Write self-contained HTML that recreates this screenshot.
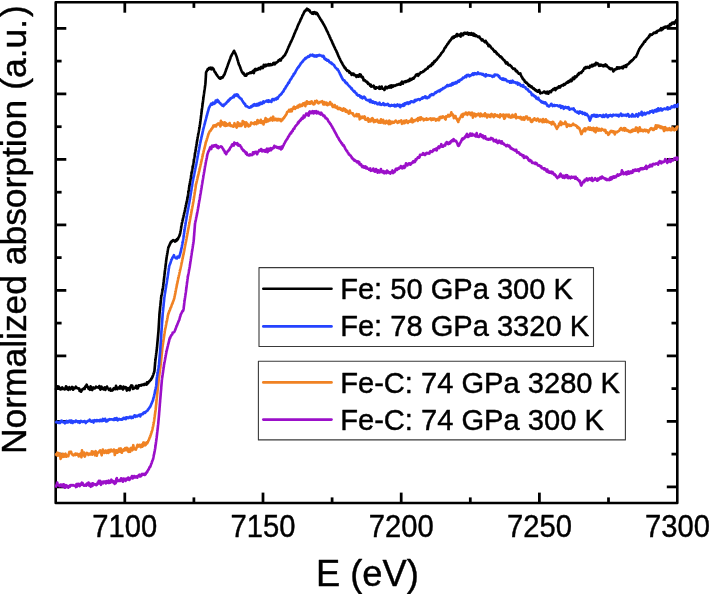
<!DOCTYPE html>
<html><head><meta charset="utf-8"><title>XANES</title>
<style>html,body{margin:0;padding:0;background:#fff;overflow:hidden}body{width:710px;height:594px}svg{will-change:transform}</style></head>
<body>
<svg width="710" height="594" viewBox="0 0 710 594" style="display:block">
<rect x="0" y="0" width="710" height="594" fill="#fff"/>
<defs><clipPath id="plotclip"><rect x="54.40" y="1.00" width="624.25" height="503.30"/></clipPath></defs>
<g stroke="#000" stroke-width="2.75" stroke-linecap="butt">
<line x1="124.8" y1="503.0" x2="124.8" y2="492.6"/>
<line x1="124.8" y1="2.3" x2="124.8" y2="12.7"/>
<line x1="193.9" y1="503.0" x2="193.9" y2="497.4"/>
<line x1="193.9" y1="2.3" x2="193.9" y2="7.9"/>
<line x1="263.0" y1="503.0" x2="263.0" y2="492.6"/>
<line x1="263.0" y1="2.3" x2="263.0" y2="12.7"/>
<line x1="332.1" y1="503.0" x2="332.1" y2="497.4"/>
<line x1="332.1" y1="2.3" x2="332.1" y2="7.9"/>
<line x1="401.2" y1="503.0" x2="401.2" y2="492.6"/>
<line x1="401.2" y1="2.3" x2="401.2" y2="12.7"/>
<line x1="470.3" y1="503.0" x2="470.3" y2="497.4"/>
<line x1="470.3" y1="2.3" x2="470.3" y2="7.9"/>
<line x1="539.4" y1="503.0" x2="539.4" y2="492.6"/>
<line x1="539.4" y1="2.3" x2="539.4" y2="12.7"/>
<line x1="608.5" y1="503.0" x2="608.5" y2="497.4"/>
<line x1="608.5" y1="2.3" x2="608.5" y2="7.9"/>
<line x1="55.7" y1="28.4" x2="66.3" y2="28.4"/>
<line x1="677.35" y1="28.4" x2="666.8" y2="28.4"/>
<line x1="55.7" y1="61.1" x2="61.6" y2="61.1"/>
<line x1="677.35" y1="61.1" x2="671.5" y2="61.1"/>
<line x1="55.7" y1="93.9" x2="66.3" y2="93.9"/>
<line x1="677.35" y1="93.9" x2="666.8" y2="93.9"/>
<line x1="55.7" y1="126.7" x2="61.6" y2="126.7"/>
<line x1="677.35" y1="126.7" x2="671.5" y2="126.7"/>
<line x1="55.7" y1="159.4" x2="66.3" y2="159.4"/>
<line x1="677.35" y1="159.4" x2="666.8" y2="159.4"/>
<line x1="55.7" y1="192.2" x2="61.6" y2="192.2"/>
<line x1="677.35" y1="192.2" x2="671.5" y2="192.2"/>
<line x1="55.7" y1="224.9" x2="66.3" y2="224.9"/>
<line x1="677.35" y1="224.9" x2="666.8" y2="224.9"/>
<line x1="55.7" y1="257.6" x2="61.6" y2="257.6"/>
<line x1="677.35" y1="257.6" x2="671.5" y2="257.6"/>
<line x1="55.7" y1="290.4" x2="66.3" y2="290.4"/>
<line x1="677.35" y1="290.4" x2="666.8" y2="290.4"/>
<line x1="55.7" y1="323.1" x2="61.6" y2="323.1"/>
<line x1="677.35" y1="323.1" x2="671.5" y2="323.1"/>
<line x1="55.7" y1="355.9" x2="66.3" y2="355.9"/>
<line x1="677.35" y1="355.9" x2="666.8" y2="355.9"/>
<line x1="55.7" y1="388.6" x2="61.6" y2="388.6"/>
<line x1="677.35" y1="388.6" x2="671.5" y2="388.6"/>
<line x1="55.7" y1="421.4" x2="66.3" y2="421.4"/>
<line x1="677.35" y1="421.4" x2="666.8" y2="421.4"/>
<line x1="55.7" y1="454.1" x2="61.6" y2="454.1"/>
<line x1="677.35" y1="454.1" x2="671.5" y2="454.1"/>
<line x1="55.7" y1="486.9" x2="66.3" y2="486.9"/>
<line x1="677.35" y1="486.9" x2="666.8" y2="486.9"/>
</g>
<rect x="55.7" y="2.3" width="621.6" height="500.7" fill="none" stroke="#000" stroke-width="2.6" stroke-linejoin="round"/>
<g fill="none" stroke-width="2.65" stroke-linejoin="round" stroke-linecap="butt" clip-path="url(#plotclip)">
<path d="M55.6 487.6L56.1 485.6L56.7 485.1L57.2 482.5L57.8 485.2L58.3 485.2L58.9 485.0L59.4 486.0L60.0 486.2L60.5 484.6L61.1 484.6L61.6 485.0L62.2 486.5L62.7 486.5L63.3 484.4L63.8 484.3L64.4 486.5L64.9 487.7L65.5 486.1L66.0 485.1L66.6 487.0L67.1 485.7L67.7 486.7L68.2 487.7L68.8 486.8L69.3 486.0L69.9 486.7L70.4 485.2L71.0 485.5L71.5 485.0L72.1 485.4L72.6 485.1L73.2 485.4L73.7 485.2L74.3 485.7L74.8 485.7L75.4 485.9L75.9 487.1L76.5 484.0L77.0 486.6L77.6 485.2L78.1 483.8L78.7 484.7L79.2 485.1L79.7 486.1L80.3 483.8L80.8 484.9L81.4 484.8L81.9 482.7L82.5 482.9L83.0 484.9L83.6 485.2L84.1 485.7L84.7 485.1L85.2 484.9L85.8 484.5L86.3 485.7L86.9 483.6L87.4 484.1L88.0 484.7L88.5 482.6L89.1 485.6L89.6 483.6L90.2 484.2L90.7 486.8L91.3 483.8L91.8 483.7L92.4 486.0L92.9 483.3L93.4 483.6L94.0 484.5L94.5 484.5L95.0 484.6L95.6 484.3L96.1 485.2L96.7 484.9L97.2 484.3L97.7 482.7L98.3 482.3L98.8 480.9L99.4 483.4L99.9 480.9L100.4 483.4L101.0 484.8L101.5 481.7L102.1 481.7L102.6 481.8L103.2 483.3L103.7 481.5L104.3 482.0L104.8 481.6L105.4 481.8L105.9 483.5L106.5 481.2L107.0 482.0L107.5 482.3L108.1 482.9L108.6 480.6L109.2 482.9L109.7 482.4L110.3 482.7L110.8 481.8L111.4 479.7L111.9 480.4L112.5 482.1L113.0 481.4L113.5 481.1L114.1 483.1L114.6 483.8L115.2 481.3L115.7 483.1L116.3 478.9L116.8 478.1L117.4 481.2L117.9 480.3L118.4 481.0L119.0 481.0L119.5 480.2L120.1 480.9L120.6 480.3L121.1 478.3L121.7 479.8L122.2 479.9L122.8 481.7L123.3 478.6L123.8 479.3L124.4 478.8L124.9 479.0L125.5 480.9L126.0 479.7L126.5 478.5L127.1 478.9L127.6 479.5L128.2 477.6L128.7 478.0L129.2 480.0L129.8 479.4L130.3 478.3L130.9 477.5L131.4 477.7L131.9 476.1L132.5 478.5L133.0 478.1L133.6 477.7L134.1 476.0L134.6 476.3L135.2 477.5L135.7 477.3L136.2 476.4L136.8 477.2L137.3 477.6L137.8 475.9L138.4 475.6L138.9 475.1L139.4 474.6L140.0 476.5L140.5 476.4L141.0 476.1L141.6 474.3L142.1 474.0L142.6 474.9L143.1 474.6L143.6 474.7L144.0 473.8L144.4 474.3L144.8 474.9L145.3 474.5L145.7 474.2L146.1 472.8L146.6 472.9L147.0 471.7L147.3 471.8L147.6 470.9L147.9 470.4L148.2 469.8L148.4 469.7L148.7 469.2L149.0 468.7L149.3 467.8L149.5 467.6L149.8 466.8L150.1 467.0L150.4 466.2L150.6 465.8L150.8 465.2L151.0 464.5L151.2 464.0L151.4 463.6L151.6 463.3L151.8 462.5L151.9 462.0L152.1 461.6L152.3 460.9L152.5 460.4L152.7 460.0L152.9 459.5L153.1 459.0L153.2 458.5L153.3 458.0L153.4 457.4L153.5 456.9L153.6 456.4L153.7 455.7L153.8 455.2L153.9 454.8L154.1 454.1L154.2 453.6L154.3 453.0L154.4 452.5L154.5 452.0L154.6 451.5L154.7 451.0L154.8 450.5L154.9 449.9L155.0 449.3L155.1 448.8L155.2 448.2L155.3 447.7L155.3 447.1L155.4 446.6L155.5 446.1L155.6 445.5L155.6 444.9L155.7 444.4L155.8 443.9L155.9 443.4L155.9 442.7L156.0 442.2L156.1 441.7L156.2 441.1L156.2 440.6L156.3 440.0L156.4 439.5L156.5 439.0L156.5 438.4L156.6 437.9L156.7 437.3L156.7 436.8L156.8 436.2L156.9 435.7L156.9 435.2L157.0 434.6L157.1 434.1L157.1 433.5L157.2 432.9L157.2 432.4L157.3 431.9L157.4 431.3L157.4 430.8L157.5 430.2L157.6 429.7L157.6 429.1L157.7 428.6L157.8 428.1L157.8 427.5L157.9 426.9L157.9 426.4L158.0 425.8L158.0 425.3L158.1 424.8L158.2 424.2L158.2 423.7L158.3 423.1L158.3 422.6L158.4 422.0L158.4 421.5L158.5 420.9L158.5 420.4L158.6 419.8L158.6 419.3L158.7 418.7L158.7 418.2L158.8 417.6L158.8 417.1L158.9 416.5L158.9 416.0L159.0 415.4L159.0 414.9L159.1 414.3L159.1 413.8L159.1 413.3L159.2 412.7L159.2 412.2L159.3 411.6L159.3 411.1L159.4 410.5L159.4 410.0L159.5 409.4L159.5 408.9L159.5 408.3L159.6 407.8L159.6 407.2L159.7 406.7L159.7 406.1L159.8 405.6L159.8 405.0L159.8 404.5L159.9 403.9L159.9 403.4L160.0 402.8L160.0 402.3L160.1 401.7L160.1 401.2L160.1 400.6L160.2 400.1L160.2 399.5L160.3 399.0L160.3 398.4L160.4 397.9L160.4 397.4L160.5 396.8L160.5 396.2L160.6 395.7L160.6 395.1L160.7 394.6L160.7 394.0L160.7 393.5L160.8 393.0L160.8 392.4L160.9 391.9L160.9 391.3L161.0 390.8L161.0 390.2L161.1 389.7L161.1 389.1L161.2 388.6L161.2 388.0L161.2 387.5L161.3 386.9L161.3 386.4L161.4 385.8L161.4 385.3L161.5 384.7L161.5 384.2L161.6 383.6L161.6 383.1L161.7 382.5L161.7 382.0L161.8 381.4L161.8 380.9L161.8 380.3L161.9 379.8L162.0 379.2L162.0 378.7L162.1 378.2L162.2 377.6L162.3 377.1L162.4 376.5L162.4 376.0L162.5 375.4L162.6 374.9L162.7 374.4L162.8 373.8L162.8 373.3L162.9 372.7L163.0 372.2L163.1 371.7L163.1 371.1L163.2 370.5L163.3 370.0L163.4 369.5L163.5 368.9L163.5 368.3L163.6 367.9L163.7 367.3L163.8 366.7L163.9 366.2L163.9 365.6L164.0 365.1L164.1 364.5L164.2 364.1L164.3 363.4L164.4 362.8L164.5 362.4L164.6 361.9L164.7 361.3L164.8 360.8L164.9 360.2L165.0 359.7L165.1 359.2L165.2 358.6L165.3 358.1L165.4 357.5L165.5 356.9L165.6 356.4L165.7 355.8L165.8 355.4L165.9 354.8L166.0 354.3L166.1 353.7L166.2 353.2L166.3 352.7L166.4 352.1L166.5 351.6L166.6 351.0L166.7 350.5L166.9 350.0L167.0 349.4L167.1 348.9L167.2 348.4L167.4 347.9L167.5 347.3L167.6 346.8L167.8 346.2L167.9 345.7L168.0 345.1L168.2 344.6L168.3 344.1L168.4 343.6L168.6 343.0L168.7 342.4L168.8 341.9L169.0 341.5L169.1 340.9L169.2 340.3L169.4 339.7L169.5 339.2L169.7 338.2L169.9 338.4L170.2 337.8L170.4 337.3L170.6 336.5L170.8 336.1L171.1 335.8L171.3 335.2L171.5 334.9L171.8 334.8L172.2 334.5L172.7 332.6L173.1 332.6L173.5 332.2L174.0 332.1L174.3 331.7L174.5 331.4L174.7 331.0L174.9 330.5L175.1 330.2L175.3 329.6L175.5 329.3L175.7 328.4L175.9 327.9L176.1 327.5L176.3 327.0L176.4 326.4L176.6 326.1L176.8 325.7L177.1 325.2L177.3 324.5L177.5 324.0L177.7 323.5L177.9 323.0L178.1 322.6L178.3 321.9L178.6 321.5L178.8 320.6L179.0 320.5L179.2 320.1L179.4 319.4L179.5 319.0L179.7 318.2L179.8 317.8L180.0 317.2L180.1 316.8L180.3 316.3L180.5 315.6L180.6 315.1L180.8 314.6L180.9 314.3L181.1 313.7L181.4 313.2L181.7 312.8L182.0 312.3L182.2 311.7L182.5 310.9L182.8 310.6L183.1 310.7L183.4 309.9L183.5 309.3L183.6 308.8L183.7 308.2L183.7 307.7L183.8 307.1L183.9 306.6L183.9 306.0L184.0 305.5L184.1 305.0L184.1 304.4L184.2 303.9L184.2 303.3L184.3 302.8L184.4 302.2L184.4 301.7L184.5 301.1L184.6 300.6L184.7 300.0L184.8 299.5L184.8 299.0L184.9 298.4L185.0 297.9L185.1 297.3L185.2 296.8L185.2 296.2L185.3 295.7L185.4 295.1L185.5 294.6L185.6 294.1L185.6 293.5L185.7 293.0L185.8 292.4L185.9 291.9L186.0 291.3L186.0 290.8L186.1 290.2L186.2 289.7L186.2 289.1L186.3 288.6L186.4 288.1L186.5 287.5L186.5 287.0L186.6 286.4L186.7 285.9L186.7 285.3L186.8 284.8L186.9 284.2L186.9 283.7L187.0 283.1L187.1 282.6L187.2 282.0L187.2 281.5L187.3 281.0L187.4 280.4L187.4 279.9L187.5 279.3L187.6 278.8L187.7 278.2L187.7 277.7L187.8 277.1L187.9 276.6L188.0 276.0L188.1 275.6L188.2 275.0L188.3 274.5L188.4 274.0L188.5 273.4L188.6 272.9L188.7 272.3L188.8 271.8L188.9 271.2L189.0 270.6L189.1 270.1L189.2 269.6L189.3 269.0L189.4 268.5L189.5 267.9L189.6 267.4L189.7 266.9L189.8 266.3L189.9 265.8L189.9 265.3L190.0 264.7L190.1 264.1L190.2 263.6L190.3 263.1L190.3 262.5L190.4 261.9L190.5 261.4L190.6 260.9L190.7 260.3L190.8 259.8L190.8 259.2L190.9 258.7L191.0 258.2L191.1 257.6L191.2 257.0L191.2 256.5L191.3 256.0L191.4 255.4L191.5 254.9L191.6 254.4L191.7 253.8L191.7 253.3L191.8 252.7L191.9 252.2L192.0 251.6L192.1 251.1L192.2 250.6L192.3 250.0L192.3 249.5L192.4 248.9L192.5 248.4L192.6 247.8L192.7 247.3L192.8 246.7L192.8 246.2L192.9 245.7L193.0 245.1L193.1 244.6L193.2 244.0L193.3 243.5L193.4 242.9L193.4 242.4L193.5 241.9L193.6 241.3L193.7 240.8L193.7 240.2L193.8 239.7L193.8 239.1L193.9 238.6L193.9 238.0L193.9 237.5L194.0 236.9L194.0 236.4L194.1 235.8L194.1 235.3L194.2 234.7L194.2 234.2L194.2 233.6L194.3 233.1L194.3 232.5L194.4 232.0L194.4 231.4L194.5 230.9L194.5 230.3L194.5 229.8L194.6 229.2L194.6 228.7L194.7 228.1L194.7 227.6L194.8 227.0L194.8 226.5L194.8 225.9L194.9 225.4L194.9 224.8L195.0 224.3L195.0 223.8L195.1 223.2L195.2 222.6L195.3 222.2L195.4 221.6L195.6 221.1L195.7 220.5L195.8 220.0L195.9 219.4L196.0 218.9L196.1 218.3L196.2 217.9L196.3 217.3L196.4 216.8L196.5 216.2L196.7 215.7L196.8 215.1L196.9 214.5L197.0 214.1L197.1 213.5L197.2 212.9L197.3 212.4L197.4 211.9L197.5 211.3L197.6 210.8L197.7 210.2L197.8 209.7L197.9 209.2L198.0 208.7L198.1 208.1L198.2 207.6L198.3 207.0L198.4 206.4L198.5 205.9L198.6 205.4L198.7 204.9L198.7 204.3L198.8 203.7L198.9 203.2L199.0 202.7L199.1 202.1L199.2 201.6L199.3 201.1L199.4 200.5L199.5 200.0L199.6 199.4L199.7 198.9L199.8 198.3L199.9 197.8L200.0 197.3L200.0 196.7L200.1 196.2L200.2 195.6L200.3 195.1L200.4 194.5L200.5 194.0L200.6 193.4L200.7 192.9L200.8 192.4L200.9 191.8L200.9 191.3L201.0 190.7L201.1 190.2L201.2 189.7L201.3 189.2L201.4 188.6L201.5 188.0L201.6 187.5L201.7 186.9L201.7 186.5L201.8 185.8L201.9 185.3L202.0 184.8L202.1 184.2L202.2 183.6L202.3 183.2L202.4 182.6L202.5 182.0L202.5 181.5L202.6 180.9L202.7 180.4L202.8 179.9L202.9 179.3L203.0 178.8L203.1 178.2L203.2 177.7L203.3 177.1L203.3 176.6L203.4 176.0L203.5 175.5L203.6 175.0L203.7 174.4L203.8 173.9L203.9 173.4L204.0 172.8L204.1 172.2L204.2 171.8L204.3 171.2L204.4 170.6L204.5 170.1L204.6 169.6L204.6 169.0L204.7 168.5L204.8 167.9L204.9 167.4L205.0 166.8L205.1 166.3L205.2 165.8L205.3 165.3L205.4 164.7L205.5 164.2L205.6 163.6L205.7 163.0L205.8 162.5L205.9 162.0L206.0 161.4L206.1 160.8L206.2 160.4L206.3 159.9L206.4 159.3L206.6 158.8L206.7 158.2L206.8 157.7L206.9 157.2L207.0 156.6L207.1 156.1L207.2 155.5L207.3 155.0L207.4 154.5L207.6 153.8L207.8 153.3L208.0 152.7L208.2 152.0L208.4 151.4L208.7 151.2L208.9 150.7L209.1 150.4L209.3 149.7L209.5 149.4L209.7 149.1L209.9 148.1L210.3 147.2L210.8 148.2L211.3 149.0L211.7 146.7L212.2 145.6L212.6 146.1L213.1 145.8L213.6 146.6L214.1 145.3L214.7 145.9L215.2 146.1L215.7 145.1L216.3 145.0L216.8 147.0L217.3 147.5L217.9 146.3L218.4 148.1L218.9 147.6L219.5 147.0L220.0 146.9L220.5 146.5L221.0 146.4L221.3 146.8L221.6 147.0L221.9 146.9L222.2 147.8L222.5 148.1L222.8 148.4L223.1 149.4L223.4 149.2L223.7 150.4L224.0 150.5L224.3 150.7L224.6 151.2L224.9 152.7L225.3 153.0L225.6 152.9L225.9 153.7L226.2 154.1L226.5 152.9L226.8 152.5L227.1 152.4L227.4 151.9L227.7 151.2L228.0 151.3L228.3 150.6L228.6 150.2L228.9 150.3L229.3 149.3L229.6 149.5L229.9 148.4L230.2 147.7L230.6 147.3L230.9 147.1L231.2 146.6L231.6 146.1L231.9 144.8L232.3 144.3L232.8 144.5L233.3 145.1L233.8 145.6L234.3 142.5L234.8 143.5L235.2 143.2L235.8 143.6L236.3 144.1L236.8 143.5L237.3 143.2L237.8 145.2L238.3 145.5L238.8 144.7L239.3 145.1L239.8 145.2L240.1 145.4L240.4 146.5L240.7 146.6L241.1 146.9L241.4 147.4L241.7 148.7L242.0 148.8L242.4 149.2L242.7 149.5L243.0 150.3L243.4 150.7L243.8 150.3L244.1 151.0L244.5 151.3L244.8 152.0L245.2 152.4L245.6 152.0L245.9 153.6L246.3 153.9L246.7 152.8L247.2 154.9L247.7 154.7L248.1 155.2L248.6 155.2L249.1 155.5L249.5 155.3L250.0 154.3L250.5 154.7L251.0 155.1L251.5 154.9L252.0 155.1L252.5 154.4L253.0 152.4L253.5 154.2L254.0 153.0L254.5 152.2L255.0 152.8L255.6 151.9L256.1 153.1L256.6 152.0L257.1 154.3L257.7 152.5L258.2 151.9L258.7 151.5L259.2 150.1L259.6 150.7L260.1 150.6L260.6 150.7L261.1 149.1L261.6 150.3L262.1 151.4L262.6 150.2L263.2 150.5L263.7 151.0L264.2 150.1L264.8 150.4L265.3 151.7L265.9 151.0L266.4 149.5L266.9 148.7L267.5 152.2L268.0 150.9L268.5 148.8L269.1 149.9L269.6 150.5L270.1 149.9L270.6 148.2L271.1 150.2L271.5 149.4L272.0 148.5L272.4 148.7L272.9 147.9L273.4 147.4L273.8 147.9L274.3 145.8L274.7 147.3L275.2 146.8L275.7 146.7L276.1 146.6L276.6 147.3L277.0 147.6L277.4 147.6L277.8 147.2L278.3 148.1L278.7 147.6L279.3 147.1L279.8 148.4L280.4 148.6L280.9 149.4L281.5 146.5L282.0 148.6L282.2 148.0L282.5 147.5L282.7 147.2L283.0 146.3L283.2 146.0L283.5 145.4L283.7 144.9L283.9 144.3L284.2 143.9L284.4 143.6L284.7 143.0L284.9 142.6L285.2 141.9L285.4 141.8L285.7 140.9L286.0 140.6L286.3 140.3L286.6 139.6L286.9 139.4L287.2 138.8L287.5 138.7L287.7 138.0L288.0 137.4L288.3 136.6L288.6 136.5L288.9 136.2L289.2 135.6L289.5 134.7L289.8 134.3L290.1 134.0L290.4 133.6L290.8 132.7L291.1 133.3L291.4 132.3L291.7 131.9L292.0 131.2L292.4 130.9L292.7 131.1L293.0 129.8L293.3 129.4L293.6 128.8L294.0 128.5L294.3 128.7L294.6 127.7L294.9 127.2L295.2 126.3L295.6 126.2L295.9 126.0L296.2 125.4L296.5 125.0L296.8 124.9L297.1 124.4L297.5 123.8L297.8 123.0L298.1 122.3L298.5 123.0L298.8 121.5L299.2 121.8L299.5 121.1L299.9 120.5L300.2 120.7L300.6 119.7L301.0 120.0L301.3 118.7L301.7 118.8L302.0 118.8L302.4 117.5L302.8 118.6L303.2 117.8L303.7 115.6L304.1 117.1L304.5 117.3L305.0 115.8L305.4 115.3L305.8 115.3L306.2 113.6L306.7 114.4L307.2 115.0L307.7 113.7L308.2 114.7L308.7 115.6L309.2 112.1L309.8 111.5L310.3 112.2L310.8 113.2L311.3 113.0L311.8 111.7L312.4 111.2L312.9 111.4L313.4 113.4L313.9 111.2L314.5 111.2L315.0 112.8L315.6 111.9L316.1 111.2L316.7 113.4L317.2 112.8L317.8 111.8L318.3 112.0L318.8 113.3L319.3 112.8L319.8 113.4L320.2 114.1L320.7 114.6L321.2 112.7L321.7 113.7L322.2 114.2L322.7 114.8L323.1 115.5L323.5 116.2L323.9 115.7L324.3 115.6L324.7 116.6L325.1 116.7L325.5 118.2L325.9 118.0L326.3 118.2L326.7 118.9L327.1 118.7L327.4 119.2L327.7 119.7L328.0 120.5L328.3 121.1L328.6 121.5L328.9 121.9L329.2 122.1L329.5 122.7L329.8 123.0L330.1 123.8L330.4 123.8L330.7 124.3L331.0 124.9L331.3 125.5L331.5 125.7L331.8 126.2L332.1 126.6L332.3 126.9L332.6 127.9L332.9 128.3L333.1 128.4L333.4 128.9L333.7 129.7L333.9 130.0L334.2 130.4L334.5 131.3L334.7 131.5L335.0 132.0L335.3 132.7L335.5 132.9L335.8 133.5L336.1 134.0L336.3 134.6L336.6 134.8L336.9 135.7L337.1 136.0L337.4 136.8L337.7 137.0L337.9 137.3L338.2 137.7L338.5 138.1L338.7 138.8L339.0 139.3L339.3 140.0L339.6 140.3L339.9 140.4L340.2 141.4L340.5 141.5L340.9 142.1L341.2 142.9L341.5 143.4L341.8 143.2L342.2 143.7L342.5 144.7L342.8 145.1L343.1 145.4L343.4 145.9L343.8 145.4L344.1 146.3L344.3 146.5L344.6 147.2L344.9 147.7L345.2 148.5L345.5 149.1L345.8 149.5L346.1 149.9L346.4 150.1L346.7 151.0L346.9 151.3L347.2 151.2L347.5 152.0L347.8 152.7L348.1 152.7L348.5 153.4L348.8 154.4L349.2 154.3L349.5 154.7L349.9 155.1L350.2 155.2L350.5 155.8L350.9 156.0L351.2 156.7L351.6 157.0L351.9 158.0L352.3 158.1L352.6 158.9L352.9 158.5L353.4 159.2L353.8 160.0L354.2 160.5L354.7 160.0L355.1 160.5L355.6 161.0L356.0 161.1L356.5 161.3L356.9 162.2L357.3 161.6L357.8 161.3L358.2 162.4L358.7 163.3L359.2 162.0L359.6 164.5L360.1 164.3L360.5 164.8L361.0 164.2L361.4 164.9L361.9 166.5L362.4 167.1L362.8 166.6L363.3 166.1L363.8 166.4L364.3 167.7L364.8 166.6L365.3 166.4L365.8 167.2L366.3 168.4L366.7 167.2L367.2 168.3L367.7 168.7L368.2 168.8L368.7 168.8L369.2 169.8L369.8 169.9L370.3 168.4L370.8 170.8L371.3 170.5L371.8 170.5L372.3 170.1L372.8 170.3L373.3 168.5L373.8 170.2L374.4 171.4L374.9 171.7L375.5 170.6L376.0 169.0L376.5 169.9L377.1 170.9L377.6 172.7L378.2 170.3L378.7 171.5L379.3 172.2L379.8 172.4L380.4 171.8L380.9 169.1L381.5 172.0L382.0 172.0L382.6 172.4L383.1 171.1L383.7 171.3L384.2 173.3L384.8 172.1L385.3 172.0L385.9 171.3L386.4 173.1L387.0 170.6L387.5 171.3L388.1 172.3L388.6 172.0L389.2 172.9L389.7 172.5L390.3 173.5L390.8 172.0L391.4 171.9L391.9 172.3L392.5 170.4L393.0 173.1L393.6 171.5L394.0 172.3L394.4 172.1L394.8 171.6L395.1 170.8L395.5 169.9L395.9 168.8L396.3 169.5L396.7 168.9L397.1 169.8L397.6 168.5L398.1 168.9L398.7 168.0L399.2 168.5L399.7 167.7L400.3 167.7L400.8 166.0L401.3 166.7L401.9 167.2L402.4 168.4L402.9 167.6L403.5 166.0L404.0 168.0L404.5 167.1L405.0 167.3L405.5 165.6L406.0 163.3L406.5 164.7L407.0 164.5L407.5 165.3L408.0 163.8L408.5 163.8L408.9 163.3L409.4 164.2L409.9 163.3L410.4 164.7L410.9 164.1L411.3 163.7L411.8 162.8L412.2 162.6L412.6 162.7L413.1 161.4L413.5 162.2L414.0 161.2L414.4 161.6L414.8 162.0L415.3 161.3L415.7 159.3L416.1 160.1L416.6 159.1L417.0 158.5L417.5 158.3L417.9 157.4L418.3 157.8L418.7 157.0L419.2 157.7L419.6 157.0L420.0 154.9L420.4 155.3L420.8 155.0L421.3 154.8L421.7 154.5L422.1 154.7L422.6 154.2L423.1 153.2L423.7 154.3L424.2 154.8L424.7 153.9L425.3 154.8L425.8 154.1L426.3 153.0L426.9 152.9L427.4 153.1L427.9 153.5L428.5 153.1L429.0 153.6L429.5 153.5L430.0 151.7L430.5 151.1L430.9 151.5L431.4 151.8L431.9 151.9L432.4 151.5L432.9 151.2L433.3 149.8L433.8 150.3L434.3 149.4L434.8 149.8L435.3 150.0L435.8 148.7L436.2 148.6L436.7 150.5L437.3 148.1L437.8 147.7L438.3 147.0L438.8 146.4L439.3 148.1L439.8 146.8L440.3 146.4L440.8 146.1L441.3 144.2L441.8 146.6L442.3 145.7L442.8 145.8L443.2 146.6L443.7 145.4L444.2 145.2L444.7 144.9L445.2 145.5L445.6 143.4L446.1 143.5L446.6 142.1L447.1 143.2L447.6 143.6L448.1 142.7L448.5 144.1L449.0 143.3L449.5 143.7L450.0 142.2L450.4 142.9L450.9 141.1L451.4 141.2L451.8 140.8L452.3 140.1L452.8 141.2L453.2 140.9L453.7 139.2L454.1 140.2L454.6 140.3L455.1 140.6L455.5 141.2L456.0 140.9L456.3 141.5L456.6 142.0L456.8 142.3L457.1 142.8L457.3 143.6L457.5 143.9L457.8 144.9L458.0 145.4L458.3 145.3L458.5 145.9L458.8 145.7L459.0 145.4L459.3 144.9L459.5 144.4L459.7 143.6L460.0 143.6L460.2 143.1L460.5 142.4L460.7 142.0L460.9 141.8L461.2 141.4L461.4 140.4L461.7 140.4L461.9 139.3L462.2 138.7L462.6 138.5L463.0 139.3L463.5 138.6L463.9 138.2L464.3 138.4L464.7 137.3L465.2 136.5L465.6 137.2L466.0 136.0L466.5 134.7L467.0 133.9L467.5 135.3L468.1 137.0L468.6 136.1L469.1 135.2L469.7 136.0L470.2 133.6L470.7 134.8L471.3 134.0L471.8 135.7L472.3 133.9L472.9 135.3L473.4 135.0L474.0 134.8L474.5 135.5L475.1 134.9L475.6 136.4L476.2 135.1L476.7 133.1L477.2 136.3L477.8 136.7L478.3 136.1L478.9 136.9L479.4 136.5L479.9 135.3L480.4 134.1L481.0 135.0L481.5 135.9L482.0 136.9L482.6 135.4L483.1 135.8L483.6 138.1L484.2 136.6L484.7 136.5L485.2 136.4L485.7 138.8L486.3 138.6L486.8 138.7L487.3 139.5L487.9 139.2L488.4 139.6L488.9 138.9L489.5 139.3L490.0 139.3L490.5 139.5L491.1 137.9L491.6 138.7L492.1 138.8L492.7 138.6L493.2 139.3L493.7 141.1L494.2 140.8L494.7 140.3L495.2 140.6L495.7 141.7L496.2 139.9L496.7 141.1L497.3 142.5L497.8 143.0L498.3 142.6L498.8 142.4L499.3 140.7L499.8 141.5L500.3 142.3L500.8 143.0L501.3 143.3L501.8 141.4L502.3 142.7L502.8 143.7L503.3 143.3L503.8 143.8L504.3 144.7L504.8 144.8L505.3 145.0L505.8 145.6L506.3 146.2L506.8 145.4L507.3 144.9L507.7 145.3L508.2 145.8L508.7 146.4L509.2 145.6L509.7 146.3L510.2 147.0L510.6 148.5L511.1 148.4L511.6 148.1L512.1 149.0L512.6 148.8L513.1 149.1L513.5 149.9L514.0 149.8L514.4 149.9L514.9 150.6L515.3 150.2L515.8 150.8L516.2 149.8L516.6 151.0L517.1 152.6L517.5 152.0L518.0 152.4L518.4 152.5L518.8 152.4L519.3 153.6L519.7 153.8L520.2 154.7L520.6 153.9L521.1 154.6L521.6 154.7L522.0 154.7L522.5 156.2L523.0 155.3L523.5 155.4L524.0 158.0L524.5 156.7L524.9 156.7L525.4 157.4L525.9 156.6L526.4 157.7L526.9 157.0L527.3 157.7L527.8 158.1L528.2 159.6L528.7 159.6L529.1 160.7L529.5 161.0L530.0 159.9L530.4 160.8L530.8 160.6L531.3 160.7L531.7 162.1L532.1 162.8L532.6 162.4L533.1 162.7L533.6 162.9L534.1 163.2L534.6 163.4L535.1 162.7L535.5 164.0L536.0 163.4L536.5 163.2L537.0 164.1L537.5 164.8L538.0 165.5L538.5 165.5L539.0 165.7L539.4 165.3L539.9 166.2L540.4 166.4L540.8 166.8L541.3 166.4L541.7 168.2L542.2 168.2L542.6 168.4L543.1 168.3L543.6 168.3L544.0 169.3L544.5 168.3L544.9 168.9L545.4 169.4L545.8 170.3L546.3 170.0L546.8 171.5L547.3 169.6L547.8 172.0L548.3 171.6L548.7 172.3L549.2 171.5L549.7 172.7L550.2 172.1L550.7 172.7L551.2 171.7L551.7 173.3L552.2 173.4L552.6 172.1L553.1 173.5L553.6 173.7L554.1 174.8L554.6 174.0L555.1 174.7L555.5 175.4L555.8 175.4L556.0 176.4L556.3 176.6L556.5 177.0L556.8 177.2L557.0 177.3L557.4 178.0L557.8 177.1L558.3 176.6L558.7 177.1L559.1 176.7L559.5 176.0L560.0 174.5L560.6 173.7L561.1 176.4L561.7 175.9L562.2 175.6L562.8 177.6L563.3 175.7L563.9 176.2L564.4 178.0L565.0 176.8L565.5 175.5L566.1 175.2L566.6 177.1L567.2 175.3L567.7 177.0L568.2 178.1L568.8 176.8L569.3 177.5L569.8 177.0L570.4 178.3L570.9 177.6L571.5 176.7L572.0 177.6L572.5 177.6L573.1 177.1L573.6 177.5L574.1 176.9L574.6 177.2L575.2 178.7L575.7 176.9L576.2 178.6L576.7 178.8L577.3 178.5L577.7 179.9L578.1 180.1L578.5 179.8L578.9 180.5L579.3 181.3L579.7 180.6L580.0 181.6L580.1 182.1L580.3 182.7L580.5 183.4L580.6 183.7L580.8 184.2L580.9 184.7L581.1 185.3L581.3 185.5L581.5 184.5L581.8 184.6L582.0 184.2L582.2 183.0L582.5 182.6L582.7 182.5L582.9 182.0L583.2 181.9L583.7 181.1L584.2 182.0L584.7 179.8L585.2 180.7L585.7 180.0L586.2 179.7L586.7 178.4L587.2 179.1L587.7 180.4L588.2 178.8L588.7 178.9L589.3 179.4L589.8 178.5L590.3 179.6L590.9 180.1L591.4 179.5L592.0 177.9L592.5 181.0L593.1 180.1L593.6 180.0L594.2 179.9L594.7 179.4L595.2 178.2L595.7 179.3L596.3 179.5L596.8 180.2L597.3 180.7L597.9 178.6L598.4 180.1L598.9 178.9L599.4 179.0L600.0 177.5L600.5 178.3L601.0 177.2L601.5 178.3L602.1 176.6L602.6 177.4L603.1 177.3L603.6 178.1L604.1 178.4L604.6 178.5L605.0 178.3L605.5 179.5L606.0 179.6L606.5 178.8L607.0 180.1L607.5 179.4L608.0 180.0L608.5 179.7L609.0 179.5L609.5 180.0L610.0 177.8L610.5 179.7L611.0 177.4L611.5 179.2L612.0 178.8L612.5 176.9L613.0 177.9L613.5 177.2L613.9 176.3L614.4 177.6L614.9 177.5L615.3 176.7L615.8 177.2L616.3 176.0L616.7 175.3L617.2 176.0L617.7 174.4L618.2 175.3L618.7 175.6L619.2 174.8L619.8 174.4L620.3 174.6L620.8 174.3L621.4 173.3L621.9 170.4L622.4 172.7L623.0 172.0L623.5 174.1L624.0 173.0L624.6 173.3L625.1 173.7L625.6 173.9L626.2 172.0L626.7 174.4L627.2 173.5L627.8 173.0L628.3 171.4L628.8 173.7L629.4 172.7L629.9 172.9L630.4 171.5L631.0 173.1L631.5 172.8L632.0 171.3L632.5 172.7L633.1 170.1L633.6 171.3L634.1 171.1L634.6 170.9L635.2 169.6L635.7 169.5L636.2 170.5L636.7 170.7L637.3 169.8L637.8 169.6L638.4 169.3L638.9 171.1L639.5 170.0L640.0 169.6L640.5 168.3L641.1 168.3L641.6 169.0L642.1 168.2L642.6 169.1L643.1 169.1L643.6 168.4L644.1 168.5L644.6 168.6L645.1 167.1L645.6 168.5L646.1 165.9L646.6 168.9L647.1 166.5L647.6 167.1L648.1 166.7L648.6 167.1L649.1 166.0L649.6 166.7L650.1 164.9L650.6 166.3L651.1 165.5L651.6 165.7L652.1 166.1L652.6 164.1L653.1 164.1L653.6 163.8L654.1 164.1L654.6 164.2L655.1 164.4L655.6 163.9L656.1 163.3L656.6 163.6L657.1 163.8L657.6 163.7L658.1 164.7L658.7 162.2L659.2 162.6L659.7 161.1L660.3 161.4L660.8 162.6L661.4 163.3L661.9 161.7L662.5 162.2L663.0 161.9L663.5 162.1L664.1 161.8L664.6 161.1L665.2 159.2L665.7 159.6L666.2 161.3L666.8 161.0L667.3 162.9L667.9 161.2L668.4 161.7L669.0 159.7L669.5 159.1L670.0 160.5L670.6 161.9L671.1 160.9L671.6 159.9L672.2 160.3L672.7 160.4L673.2 160.2L673.8 159.6L674.3 158.4L674.8 158.1L675.3 158.4L675.9 158.7L676.4 157.5L676.9 159.8L677.4 159.1L678.0 157.9L678.5 158.7" stroke="#9B0FC9"/>
<path d="M55.6 455.7L56.2 454.2L56.7 455.2L57.3 452.7L57.8 455.7L58.4 453.1L58.9 454.8L59.5 454.9L60.0 454.0L60.6 458.9L61.1 454.9L61.7 455.8L62.2 456.8L62.8 453.8L63.3 456.8L63.9 455.3L64.4 456.6L65.0 454.2L65.5 453.7L66.1 456.7L66.6 456.2L67.2 455.6L67.7 456.2L68.3 456.1L68.8 453.8L69.4 451.9L69.9 452.4L70.5 452.3L71.0 451.7L71.6 453.7L72.1 454.2L72.7 454.9L73.2 455.3L73.8 454.6L74.3 454.6L74.9 455.1L75.4 453.6L75.9 453.8L76.5 454.7L77.0 453.9L77.6 453.8L78.1 454.4L78.7 456.4L79.2 455.2L79.8 454.1L80.3 453.6L80.9 454.1L81.4 457.3L82.0 450.4L82.5 454.3L83.0 454.4L83.6 455.3L84.1 452.6L84.7 456.6L85.2 455.7L85.8 454.1L86.3 454.1L86.9 452.9L87.4 453.7L88.0 453.5L88.5 455.0L89.1 454.3L89.6 453.6L90.2 454.5L90.7 454.5L91.3 454.0L91.8 451.4L92.4 454.6L92.9 452.0L93.5 451.8L94.0 452.9L94.6 453.9L95.1 455.3L95.7 451.2L96.2 454.9L96.8 455.7L97.3 452.9L97.9 452.8L98.4 452.2L99.0 452.1L99.5 451.0L100.1 450.3L100.6 452.2L101.2 453.1L101.7 455.3L102.3 451.7L102.8 449.6L103.3 452.3L103.9 451.8L104.4 452.8L105.0 451.9L105.5 450.5L106.1 451.0L106.6 453.0L107.2 452.6L107.7 450.7L108.3 452.9L108.8 450.0L109.3 450.8L109.9 451.8L110.4 449.8L111.0 449.7L111.5 451.2L112.1 451.3L112.6 451.0L113.2 450.5L113.7 449.6L114.3 449.8L114.8 455.0L115.4 450.7L115.9 452.9L116.4 450.4L117.0 452.6L117.5 452.7L118.1 451.6L118.6 449.9L119.2 448.6L119.7 451.6L120.3 448.9L120.8 448.5L121.4 452.2L121.9 452.7L122.5 450.7L123.0 450.0L123.6 449.3L124.1 450.6L124.7 449.6L125.2 448.0L125.8 448.8L126.3 450.2L126.8 447.8L127.4 448.2L127.9 449.6L128.5 451.8L129.0 450.0L129.5 449.4L130.1 451.8L130.6 448.1L131.1 447.8L131.7 449.8L132.2 450.3L132.8 449.4L133.3 445.2L133.8 448.8L134.4 449.2L134.9 448.3L135.4 448.8L135.9 449.6L136.5 447.9L137.0 446.3L137.5 444.8L138.0 446.8L138.6 446.0L139.1 445.9L139.6 445.0L140.1 446.5L140.7 447.2L141.2 446.8L141.7 444.6L142.2 446.7L142.8 446.1L143.3 442.6L143.7 445.4L144.2 442.7L144.7 443.0L145.2 445.3L145.7 444.9L146.2 443.3L146.7 442.5L147.2 443.4L147.4 442.4L147.7 442.4L147.9 441.8L148.1 441.5L148.4 440.8L148.6 440.1L148.8 439.9L149.1 439.3L149.3 438.5L149.5 438.0L149.7 437.6L149.9 437.3L150.1 436.9L150.3 436.3L150.4 435.6L150.6 435.2L150.8 434.8L151.0 434.3L151.1 433.6L151.3 433.2L151.5 432.6L151.7 431.9L151.8 431.4L152.0 431.0L152.2 430.5L152.3 430.0L152.4 429.4L152.5 428.9L152.6 428.4L152.7 427.8L152.8 427.3L153.0 426.8L153.1 426.3L153.2 425.7L153.3 425.2L153.4 424.6L153.5 424.0L153.6 423.6L153.7 423.1L153.8 422.4L153.9 422.0L154.0 421.4L154.1 420.9L154.2 420.3L154.2 419.7L154.3 419.2L154.4 418.6L154.5 418.1L154.5 417.6L154.6 417.0L154.7 416.5L154.8 415.9L154.8 415.4L154.9 414.8L155.0 414.3L155.1 413.8L155.1 413.2L155.2 412.6L155.3 412.1L155.4 411.6L155.5 411.0L155.5 410.5L155.6 410.0L155.7 409.4L155.7 408.8L155.8 408.3L155.8 407.8L155.9 407.2L155.9 406.6L156.0 406.1L156.0 405.6L156.1 405.0L156.2 404.4L156.2 403.9L156.3 403.4L156.3 402.8L156.4 402.3L156.4 401.7L156.5 401.2L156.5 400.6L156.6 400.1L156.6 399.5L156.7 399.0L156.8 398.4L156.8 397.9L156.9 397.3L156.9 396.8L157.0 396.2L157.0 395.7L157.1 395.1L157.1 394.6L157.2 394.1L157.3 393.5L157.3 393.0L157.4 392.4L157.4 391.9L157.5 391.3L157.5 390.8L157.6 390.2L157.7 389.7L157.7 389.1L157.8 388.6L157.8 388.0L157.9 387.5L157.9 387.0L158.0 386.4L158.1 385.9L158.1 385.3L158.2 384.8L158.2 384.2L158.3 383.7L158.3 383.1L158.4 382.6L158.5 382.0L158.5 381.5L158.6 380.9L158.6 380.4L158.7 379.8L158.8 379.3L158.8 378.7L158.9 378.2L159.0 377.6L159.0 377.1L159.1 376.5L159.2 376.0L159.3 375.5L159.3 374.9L159.4 374.4L159.5 373.9L159.5 373.2L159.6 372.7L159.7 372.2L159.8 371.6L159.8 371.1L159.9 370.6L160.0 370.0L160.0 369.5L160.1 368.9L160.2 368.4L160.3 367.8L160.3 367.3L160.4 366.7L160.5 366.2L160.5 365.6L160.6 365.1L160.7 364.5L160.7 364.0L160.8 363.5L160.9 362.9L160.9 362.3L161.0 361.8L161.0 361.3L161.1 360.7L161.1 360.2L161.2 359.7L161.2 359.1L161.3 358.5L161.4 358.0L161.4 357.4L161.5 356.9L161.5 356.3L161.6 355.8L161.6 355.2L161.7 354.7L161.7 354.2L161.8 353.6L161.9 353.1L161.9 352.5L162.0 352.0L162.0 351.4L162.1 350.9L162.1 350.3L162.2 349.8L162.2 349.2L162.3 348.7L162.3 348.2L162.4 347.6L162.5 347.0L162.6 346.5L162.6 346.0L162.7 345.4L162.8 344.8L162.9 344.3L163.0 343.8L163.0 343.2L163.1 342.7L163.2 342.2L163.3 341.6L163.4 341.0L163.4 340.5L163.5 339.9L163.6 339.4L163.7 338.9L163.8 338.3L163.9 337.8L163.9 337.3L164.0 336.7L164.1 336.1L164.2 335.6L164.3 335.0L164.3 334.5L164.4 334.0L164.5 333.4L164.6 332.9L164.7 332.3L164.7 331.8L164.8 331.2L164.9 330.7L165.0 330.1L165.1 329.6L165.2 329.1L165.3 328.5L165.4 328.1L165.6 327.4L165.7 327.0L165.8 326.3L165.9 325.8L166.0 325.3L166.1 324.8L166.2 324.2L166.3 323.7L166.4 323.1L166.5 322.6L166.6 322.1L166.7 321.5L166.9 321.1L167.0 320.5L167.1 320.0L167.2 319.4L167.3 318.8L167.4 318.3L167.5 317.8L167.6 317.3L167.7 316.7L167.8 316.1L167.9 315.5L168.0 315.1L168.2 314.6L168.3 314.1L168.4 313.5L168.6 313.3L168.8 312.6L169.0 312.0L169.3 311.3L169.5 310.7L169.7 310.5L169.9 309.9L170.1 309.4L170.3 308.6L170.5 308.0L170.7 307.6L170.9 307.4L171.1 307.1L171.3 306.3L171.5 305.7L171.7 305.0L171.9 304.6L172.1 304.3L172.3 303.6L172.5 303.2L172.7 302.9L172.9 302.2L173.1 301.5L173.2 301.4L173.4 300.8L173.6 300.2L173.8 299.7L174.0 299.1L174.2 298.6L174.3 298.0L174.4 297.5L174.5 296.9L174.6 296.4L174.7 295.9L174.8 295.3L175.0 294.9L175.1 294.3L175.2 293.7L175.3 293.2L175.4 292.7L175.5 292.1L175.6 291.6L175.7 291.0L175.8 290.5L175.9 289.9L176.0 289.4L176.1 288.8L176.2 288.3L176.4 287.7L176.5 287.3L176.6 286.6L176.7 286.1L176.8 285.6L176.9 285.1L177.0 284.5L177.1 284.0L177.2 283.5L177.4 282.9L177.5 282.3L177.6 281.9L177.7 281.3L177.8 280.8L177.9 280.3L178.0 279.8L178.1 279.1L178.2 278.6L178.4 278.0L178.5 277.6L178.6 277.0L178.7 276.5L178.8 275.9L178.9 275.4L179.1 274.9L179.2 274.4L179.3 273.8L179.4 273.1L179.5 272.7L179.7 272.1L179.8 271.7L179.9 271.1L180.0 270.6L180.1 270.0L180.3 269.6L180.4 268.9L180.5 268.5L180.6 268.0L180.7 267.5L180.8 266.9L181.0 266.3L181.1 265.7L181.2 265.2L181.3 264.6L181.4 264.2L181.5 263.6L181.6 263.0L181.8 262.5L181.9 262.0L182.0 261.5L182.1 260.9L182.2 260.3L182.3 259.8L182.4 259.3L182.5 258.7L182.7 258.2L182.8 257.6L182.9 257.1L183.0 256.6L183.1 256.1L183.2 255.5L183.3 254.9L183.5 254.5L183.6 253.9L183.7 253.3L183.8 252.8L183.9 252.3L184.0 251.8L184.1 251.2L184.2 250.7L184.3 250.2L184.4 249.6L184.5 249.0L184.6 248.4L184.7 248.0L184.8 247.4L184.9 246.9L185.0 246.3L185.1 245.8L185.2 245.3L185.3 244.7L185.4 244.2L185.5 243.7L185.6 243.1L185.7 242.5L185.9 242.0L186.0 241.5L186.1 240.9L186.2 240.4L186.3 239.8L186.4 239.2L186.5 238.8L186.6 238.2L186.7 237.5L186.8 237.1L186.9 236.5L187.0 236.0L187.1 235.5L187.2 235.0L187.3 234.4L187.4 233.8L187.5 233.4L187.6 232.8L187.7 232.3L187.8 231.7L187.9 231.1L188.0 230.6L188.1 230.1L188.2 229.6L188.3 229.0L188.4 228.4L188.5 227.9L188.6 227.4L188.7 226.9L188.8 226.4L188.9 225.8L189.0 225.2L189.1 224.7L189.2 224.2L189.3 223.6L189.4 223.1L189.5 222.5L189.6 222.0L189.7 221.4L189.8 220.9L189.9 220.4L190.0 219.8L190.1 219.3L190.2 218.8L190.3 218.2L190.4 217.6L190.5 217.1L190.6 216.5L190.7 216.0L190.8 215.4L190.9 214.9L191.0 214.4L191.1 213.9L191.2 213.4L191.3 212.8L191.4 212.2L191.5 211.6L191.6 211.1L191.7 210.6L191.8 210.1L191.9 209.5L192.0 209.0L192.1 208.4L192.2 207.9L192.3 207.3L192.4 206.8L192.5 206.3L192.6 205.8L192.7 205.2L192.8 204.7L192.9 204.2L193.0 203.6L193.1 203.0L193.2 202.5L193.3 202.0L193.4 201.4L193.5 200.9L193.6 200.3L193.6 199.8L193.7 199.2L193.8 198.7L193.9 198.1L194.0 197.6L194.1 197.1L194.1 196.6L194.2 196.0L194.3 195.5L194.4 194.9L194.5 194.4L194.6 193.8L194.6 193.3L194.7 192.7L194.8 192.2L194.9 191.7L195.0 191.1L195.1 190.6L195.2 190.0L195.2 189.5L195.3 188.9L195.4 188.4L195.5 187.8L195.6 187.3L195.7 186.7L195.7 186.2L195.8 185.6L195.9 185.1L196.0 184.5L196.1 184.0L196.2 183.5L196.4 183.1L196.5 182.6L196.6 182.0L196.7 181.4L196.9 180.8L197.0 180.3L197.1 179.7L197.3 179.2L197.4 178.6L197.5 178.2L197.6 177.6L197.8 177.1L197.9 176.6L198.0 175.9L198.1 175.4L198.3 175.0L198.4 174.4L198.5 173.9L198.6 173.3L198.8 172.7L198.9 172.3L199.0 171.7L199.2 171.2L199.3 170.7L199.4 170.2L199.5 169.5L199.7 169.0L199.8 168.6L199.9 167.9L200.0 167.4L200.2 167.0L200.3 166.4L200.4 165.8L200.5 165.3L200.6 164.6L200.8 164.2L200.9 163.7L201.0 163.2L201.1 162.6L201.2 162.1L201.4 161.6L201.5 161.0L201.6 160.4L201.7 159.8L201.8 159.4L202.0 158.8L202.1 158.3L202.2 157.8L202.3 157.1L202.4 156.6L202.6 156.2L202.7 155.6L202.8 155.1L202.9 154.5L203.0 153.9L203.2 153.5L203.3 152.9L203.4 152.4L203.5 151.8L203.7 151.4L203.8 150.7L203.9 150.3L204.1 149.8L204.2 149.3L204.3 148.7L204.5 148.2L204.6 147.6L204.7 147.2L204.9 146.6L205.0 146.0L205.1 145.6L205.3 145.0L205.4 144.4L205.5 143.9L205.6 143.4L205.8 142.7L205.9 142.1L206.1 141.8L206.3 141.2L206.4 140.7L206.6 140.4L206.8 139.6L206.9 139.1L207.1 138.7L207.3 138.0L207.4 137.5L207.6 137.0L207.8 136.5L207.9 136.0L208.1 135.3L208.3 134.8L208.4 134.3L208.6 133.6L208.8 133.4L209.1 132.7L209.4 132.0L209.7 131.4L210.0 131.2L210.3 130.6L210.6 130.6L210.9 130.4L211.2 129.5L211.5 128.9L211.8 128.5L212.1 128.5L212.4 127.6L212.8 127.6L213.1 126.7L213.4 125.5L213.8 126.6L214.1 126.2L214.6 125.3L215.1 125.3L215.6 125.2L216.1 126.5L216.6 124.5L217.1 124.7L217.6 124.0L218.2 123.4L218.7 124.5L219.3 124.6L219.8 123.4L220.4 126.4L220.9 120.9L221.4 124.9L222.0 122.4L222.5 122.4L223.1 124.1L223.6 124.7L224.2 125.4L224.7 122.4L225.3 126.0L225.8 123.0L226.4 124.2L226.9 125.6L227.5 124.4L228.0 124.1L228.5 125.2L229.1 124.5L229.6 123.1L230.2 125.6L230.7 126.0L231.3 125.6L231.8 125.4L232.4 126.3L232.9 126.3L233.4 126.7L234.0 125.9L234.5 123.2L235.1 125.8L235.6 126.2L236.2 126.6L236.7 127.5L237.3 124.4L237.8 122.4L238.3 126.0L238.8 126.0L239.3 125.2L239.8 123.6L240.3 126.0L240.8 124.2L241.3 126.0L241.8 124.4L242.3 124.7L242.7 121.0L243.3 123.5L243.8 122.7L244.3 122.1L244.8 123.2L245.3 126.8L245.9 123.9L246.4 122.4L246.9 125.4L247.4 123.8L247.9 124.6L248.5 126.4L249.0 126.0L249.5 125.4L250.1 125.6L250.6 124.2L251.1 122.6L251.6 123.4L252.2 123.1L252.7 123.4L253.2 123.2L253.8 123.7L254.3 124.1L254.8 122.4L255.4 122.4L255.9 123.0L256.5 124.0L257.0 122.3L257.5 120.1L258.1 123.1L258.6 120.9L259.2 121.5L259.7 121.4L260.3 122.6L260.8 119.9L261.3 123.0L261.9 121.4L262.4 122.8L262.9 121.3L263.5 124.4L264.0 121.8L264.5 120.8L265.1 120.1L265.6 118.0L266.1 122.0L266.7 119.1L267.2 120.4L267.8 121.3L268.3 121.2L268.8 120.2L269.4 119.2L269.9 120.5L270.5 119.8L271.0 117.9L271.6 118.2L272.1 120.1L272.6 120.6L273.2 116.7L273.7 119.2L274.3 118.9L274.8 120.1L275.4 119.3L275.9 118.7L276.5 120.0L277.0 120.3L277.5 120.3L278.1 118.9L278.6 119.1L279.0 120.2L279.5 119.4L279.9 119.2L280.3 120.3L280.7 119.8L281.1 121.2L281.5 119.8L281.9 119.6L282.3 120.2L282.7 118.7L283.1 118.5L283.5 118.5L283.9 118.1L284.2 117.0L284.5 117.2L284.8 116.5L285.1 116.1L285.4 115.8L285.7 115.4L286.0 114.8L286.3 114.5L286.6 113.9L286.9 112.7L287.2 111.9L287.7 111.7L288.1 111.4L288.6 111.5L289.1 109.8L289.5 111.1L290.0 111.5L290.4 111.3L290.9 110.5L291.3 109.2L291.8 111.3L292.2 109.1L292.7 108.7L293.1 108.8L293.6 107.2L294.1 106.7L294.6 107.8L295.1 108.8L295.6 107.3L296.1 107.8L296.6 107.7L297.1 107.3L297.6 105.9L298.1 107.4L298.6 106.2L299.1 105.1L299.6 104.6L300.1 106.4L300.6 105.7L301.2 104.6L301.7 106.0L302.2 105.8L302.7 104.8L303.2 103.3L303.7 104.0L304.2 104.3L304.8 102.9L305.3 106.1L305.8 103.8L306.3 102.3L306.8 101.3L307.3 103.9L307.9 103.0L308.4 103.0L309.0 102.2L309.5 103.7L310.1 103.6L310.6 101.9L311.2 102.4L311.7 101.5L312.3 103.4L312.8 103.2L313.4 104.3L313.9 104.0L314.5 104.1L315.0 101.2L315.5 101.7L316.0 101.2L316.6 100.7L317.1 101.1L317.6 103.0L318.1 102.9L318.6 103.4L319.2 102.3L319.7 102.4L320.2 101.7L320.7 101.7L321.2 101.9L321.7 101.6L322.3 101.2L322.8 102.8L323.3 104.4L323.8 102.4L324.3 102.2L324.8 104.4L325.3 104.0L325.7 102.8L326.2 104.2L326.7 102.7L327.1 105.0L327.6 105.1L328.0 104.3L328.3 104.5L328.7 103.9L329.1 104.4L329.4 103.1L329.8 103.1L330.1 102.1L330.5 103.1L330.9 103.8L331.2 104.3L331.6 104.8L332.0 104.0L332.3 105.9L332.7 106.8L333.2 105.9L333.7 106.2L334.2 107.1L334.7 105.0L335.2 106.3L335.7 107.3L336.2 107.7L336.6 107.9L337.1 106.6L337.6 108.6L338.1 109.1L338.6 108.9L339.1 108.1L339.6 107.8L340.1 108.8L340.6 109.6L341.1 108.6L341.6 109.2L342.1 110.4L342.6 110.7L343.1 109.6L343.6 108.4L344.1 110.2L344.6 109.0L345.2 109.2L345.7 111.7L346.2 111.8L346.7 110.4L347.3 111.4L347.8 111.9L348.3 112.6L348.8 113.6L349.3 113.2L349.8 110.5L350.4 113.0L350.9 112.8L351.4 113.1L351.9 113.4L352.4 113.5L352.9 113.4L353.4 115.1L354.0 115.5L354.5 116.2L355.0 115.9L355.5 115.9L356.0 115.6L356.6 114.0L357.1 116.3L357.6 115.4L358.1 115.6L358.7 114.3L359.2 115.3L359.7 119.3L360.2 116.5L360.8 117.4L361.3 118.1L361.8 117.7L362.3 116.7L362.8 117.1L363.4 118.0L363.9 117.4L364.4 116.5L364.9 116.8L365.4 119.7L366.0 119.4L366.5 119.5L367.0 119.9L367.5 119.4L368.0 118.2L368.6 121.7L369.1 119.4L369.6 119.9L370.2 119.9L370.7 121.3L371.3 119.9L371.8 118.4L372.3 118.2L372.9 118.9L373.4 121.1L373.9 122.0L374.5 120.6L375.0 120.2L375.6 121.5L376.1 121.1L376.7 120.2L377.2 119.7L377.8 121.0L378.3 122.3L378.9 122.6L379.4 122.3L379.9 120.9L380.5 122.7L381.0 119.3L381.6 121.4L382.1 122.3L382.7 120.7L383.2 119.9L383.8 123.2L384.3 121.6L384.9 121.5L385.4 123.5L386.0 122.8L386.5 120.8L387.1 122.1L387.6 122.0L388.2 123.4L388.7 124.0L389.3 120.6L389.8 121.2L390.4 124.0L390.9 122.7L391.4 122.5L392.0 121.7L392.5 123.0L393.1 121.9L393.6 122.6L394.2 122.6L394.7 121.9L395.3 121.0L395.8 120.6L396.4 121.5L396.9 121.7L397.5 122.8L398.0 122.5L398.6 122.5L399.1 121.2L399.7 121.5L400.2 121.3L400.8 120.7L401.3 120.4L401.9 123.9L402.4 122.4L403.0 123.2L403.5 122.2L404.1 120.8L404.6 123.2L405.2 122.5L405.7 121.7L406.3 120.3L406.8 121.4L407.3 122.4L407.9 122.9L408.4 121.9L409.0 121.2L409.5 120.9L410.1 121.7L410.6 120.3L411.2 121.0L411.7 118.6L412.3 122.3L412.8 122.1L413.4 120.8L413.9 120.1L414.5 121.2L415.0 120.4L415.5 119.8L416.1 119.7L416.6 119.7L417.2 118.8L417.7 120.9L418.3 118.0L418.8 119.7L419.3 119.6L419.9 117.7L420.4 119.9L421.0 117.3L421.5 118.3L422.1 118.3L422.6 118.9L423.2 118.8L423.7 120.4L424.3 119.4L424.8 119.1L425.4 119.2L425.9 119.5L426.5 118.5L427.0 119.8L427.6 119.5L428.1 119.6L428.7 119.1L429.2 119.0L429.8 119.0L430.3 118.3L430.9 119.1L431.4 120.1L432.0 118.5L432.5 118.9L433.1 119.7L433.6 118.8L434.2 118.5L434.7 119.0L435.3 119.1L435.8 120.6L436.4 119.3L436.9 119.9L437.5 118.9L438.0 119.9L438.5 120.2L439.1 120.2L439.6 117.2L440.2 118.1L440.7 116.9L441.2 118.0L441.8 117.9L442.3 116.7L442.9 116.3L443.4 116.6L443.9 117.2L444.5 117.7L445.0 118.8L445.6 119.5L446.1 116.4L446.6 117.0L447.1 116.5L447.7 116.3L448.2 114.9L448.7 116.5L449.2 116.4L449.7 115.1L450.3 115.6L450.8 114.5L451.3 112.4L451.8 114.2L452.4 115.1L452.9 114.5L453.4 115.8L453.9 118.1L454.5 116.7L455.0 116.3L455.5 116.1L455.7 117.2L456.0 117.7L456.3 118.6L456.6 118.6L456.9 118.9L457.2 119.4L457.5 120.6L457.8 121.1L458.0 121.0L458.3 122.0L458.6 120.5L458.8 119.9L459.1 119.9L459.4 119.1L459.6 118.5L459.9 117.9L460.2 117.7L460.4 117.2L460.7 116.8L461.0 116.0L461.2 116.2L461.7 114.7L462.2 115.8L462.7 116.9L463.2 113.8L463.8 113.9L464.3 114.3L464.8 114.5L465.3 113.9L465.8 112.6L466.3 113.8L466.9 113.3L467.4 114.9L467.9 113.3L468.5 112.5L469.0 112.6L469.6 113.1L470.1 114.2L470.7 115.0L471.2 112.8L471.8 114.4L472.3 112.7L472.9 117.6L473.4 115.1L474.0 114.5L474.5 113.7L475.1 115.3L475.6 116.3L476.2 114.3L476.7 114.6L477.3 114.5L477.8 115.1L478.4 113.7L478.9 114.8L479.5 114.3L480.0 116.5L480.6 113.5L481.1 114.4L481.7 115.1L482.2 116.0L482.8 115.7L483.3 114.7L483.9 115.1L484.4 116.0L485.0 113.4L485.5 115.9L486.1 114.5L486.6 116.2L487.1 117.5L487.7 114.9L488.2 114.8L488.8 115.4L489.3 115.1L489.9 116.8L490.4 117.0L491.0 114.4L491.5 113.9L492.1 115.1L492.6 114.7L493.2 116.3L493.7 117.2L494.3 115.6L494.8 114.3L495.4 114.7L495.9 115.9L496.5 115.9L497.0 115.6L497.6 115.2L498.1 116.6L498.7 115.8L499.2 116.3L499.8 117.4L500.3 114.3L500.9 115.8L501.4 115.4L502.0 115.1L502.5 116.0L503.1 114.8L503.6 114.6L504.2 118.8L504.7 118.3L505.3 117.3L505.8 114.9L506.4 115.1L506.9 114.7L507.5 115.5L508.0 116.1L508.6 116.8L509.1 114.7L509.7 117.1L510.2 116.6L510.8 117.5L511.3 116.5L511.8 117.3L512.4 114.9L512.9 117.0L513.5 115.9L514.0 115.9L514.6 116.8L515.1 116.7L515.6 114.2L516.2 118.3L516.7 116.9L517.2 117.3L517.8 117.4L518.3 117.1L518.8 117.6L519.4 118.1L519.9 117.8L520.4 116.9L521.0 117.3L521.5 119.4L522.1 118.5L522.6 117.8L523.1 119.4L523.7 117.4L524.2 119.8L524.8 118.6L525.3 117.6L525.9 116.6L526.4 116.5L527.0 116.5L527.5 118.4L527.9 119.4L528.3 119.1L528.7 118.5L529.2 119.1L529.6 118.0L530.0 118.7L530.5 119.6L530.9 121.6L531.3 121.2L531.8 121.9L532.3 121.5L532.9 119.7L533.4 120.2L533.9 119.3L534.4 118.3L535.0 119.8L535.5 119.9L536.0 120.2L536.6 120.5L537.1 119.0L537.7 118.6L538.2 119.5L538.7 119.8L539.3 121.5L539.8 120.7L540.4 119.6L540.9 120.9L541.5 121.0L542.0 119.9L542.5 122.1L543.1 119.1L543.6 120.6L544.2 122.0L544.7 121.1L545.2 121.5L545.8 119.3L546.3 121.2L546.8 122.0L547.4 120.8L547.9 121.9L548.5 121.6L549.0 122.0L549.5 122.6L550.1 122.3L550.6 123.1L551.1 122.4L551.7 124.4L552.2 123.6L552.7 121.8L553.3 122.2L553.8 123.9L554.3 124.5L554.6 124.0L554.8 124.5L555.1 124.9L555.3 125.8L555.5 126.1L555.8 126.5L556.0 127.3L556.2 127.0L556.5 128.0L556.7 128.3L556.9 129.0L557.1 128.3L557.4 127.7L557.6 127.4L557.8 126.8L558.1 126.9L558.3 126.0L558.5 125.9L558.8 125.2L559.0 124.4L559.2 123.5L559.5 123.8L560.1 123.8L560.6 121.6L561.1 125.1L561.6 123.6L562.2 122.8L562.7 123.9L563.2 123.9L563.7 123.6L564.2 123.4L564.8 123.8L565.3 121.7L565.8 122.9L566.3 123.5L566.8 126.9L567.3 125.3L567.8 124.6L568.3 125.1L568.8 124.6L569.4 125.8L569.9 125.0L570.4 125.8L571.0 125.9L571.5 125.3L572.1 125.0L572.6 124.4L573.2 123.7L573.7 124.9L574.3 124.9L574.8 125.0L575.4 125.3L575.9 125.8L576.4 125.7L576.8 126.0L577.2 127.2L577.6 127.9L578.0 127.0L578.4 127.7L578.8 128.2L579.2 127.9L579.5 129.0L579.8 129.2L580.0 130.0L580.1 130.3L580.3 130.9L580.5 131.3L580.6 131.8L580.8 132.5L581.0 133.0L581.1 133.6L581.3 134.1L581.5 134.0L581.7 133.9L581.9 133.0L582.1 132.6L582.4 132.0L582.6 131.8L582.8 131.3L583.0 130.7L583.3 130.9L583.6 129.6L584.1 129.1L584.7 128.3L585.2 131.2L585.8 128.6L586.3 129.1L586.8 128.7L587.4 128.7L587.9 129.1L588.5 127.4L589.0 128.2L589.6 129.6L590.1 127.5L590.7 129.6L591.2 128.3L591.8 130.0L592.3 129.1L592.9 128.2L593.4 127.8L594.0 131.1L594.5 130.5L595.1 128.5L595.6 132.3L596.2 128.8L596.7 127.9L597.3 130.5L597.8 129.0L598.4 130.6L598.9 128.8L599.5 130.4L600.0 129.9L600.5 130.0L601.1 130.6L601.6 128.9L602.2 129.0L602.7 129.7L603.3 129.7L603.8 130.1L604.3 130.8L604.9 129.9L605.4 130.0L605.7 131.4L606.1 133.0L606.5 132.4L606.8 132.7L607.2 132.4L607.6 132.6L608.0 133.7L608.3 134.8L608.7 134.1L609.1 134.1L609.5 133.1L609.9 132.2L610.3 132.0L610.7 131.2L611.0 131.6L611.4 131.0L611.8 131.9L612.3 132.2L612.8 131.1L613.3 131.7L613.8 131.3L614.3 133.0L614.8 134.4L615.3 132.8L615.7 131.8L616.2 131.8L616.7 132.1L617.2 132.2L617.6 131.7L618.1 131.2L618.5 131.1L619.0 131.0L619.4 130.4L619.9 129.2L620.4 129.4L620.9 128.1L621.4 129.2L622.0 129.1L622.5 130.2L623.1 129.6L623.6 128.2L624.2 128.1L624.7 130.7L625.3 128.4L625.8 129.7L626.3 129.7L626.7 129.9L627.2 130.8L627.7 130.1L628.2 131.0L628.7 130.8L629.2 131.8L629.6 131.4L630.1 131.0L630.6 132.1L631.1 131.8L631.6 131.3L632.0 130.1L632.5 131.4L633.0 129.5L633.5 130.1L634.0 129.7L634.4 130.6L634.9 130.2L635.4 130.6L635.9 127.6L636.5 129.0L637.0 127.9L637.6 129.9L638.1 132.2L638.6 129.4L639.2 130.7L639.7 127.4L640.3 129.3L640.8 131.0L641.4 129.7L641.9 129.9L642.4 130.0L643.0 131.3L643.5 130.3L644.1 130.1L644.6 129.7L645.2 130.7L645.7 131.2L646.2 129.9L646.8 130.7L647.3 130.4L647.9 131.0L648.4 132.4L649.0 130.8L649.5 130.2L650.0 129.4L650.6 128.7L651.1 128.1L651.7 129.0L652.2 128.7L652.7 129.8L653.2 128.9L653.8 129.9L654.3 129.0L654.8 127.9L655.3 127.6L655.8 125.4L656.3 128.7L656.8 127.4L657.4 125.6L657.9 127.0L658.4 125.7L658.9 125.8L659.4 126.6L659.9 126.2L660.5 128.0L661.0 127.2L661.5 126.6L662.0 128.1L662.6 127.2L663.1 127.7L663.6 129.5L664.1 131.0L664.6 127.3L665.2 127.2L665.7 128.0L666.2 129.9L666.8 128.9L667.3 130.1L667.8 128.7L668.4 129.9L668.9 129.0L669.4 128.1L669.9 128.8L670.5 130.2L671.0 129.7L671.5 130.2L672.1 129.5L672.6 127.7L673.1 128.9L673.7 129.2L674.2 130.3L674.7 130.1L675.3 129.2L675.8 128.1L676.3 129.6L676.9 126.9L677.4 126.9L678.0 126.6L678.5 127.6" stroke="#F08223"/>
<path d="M55.6 421.2L56.2 422.2L56.7 421.7L57.3 422.0L57.8 422.7L58.4 422.2L58.9 422.8L59.5 422.5L60.0 422.9L60.6 421.1L61.1 421.0L61.7 420.7L62.2 422.0L62.8 421.6L63.3 422.3L63.9 422.0L64.4 421.8L65.0 423.3L65.5 422.4L66.1 421.8L66.6 421.0L67.2 422.4L67.7 422.5L68.3 421.0L68.8 421.5L69.4 421.8L69.9 420.5L70.5 421.3L71.0 422.6L71.5 420.6L72.1 421.8L72.6 423.0L73.2 421.4L73.7 421.3L74.3 421.7L74.8 422.0L75.4 421.9L75.9 420.6L76.5 420.9L77.0 421.5L77.6 421.3L78.1 422.4L78.7 421.4L79.2 421.3L79.8 422.8L80.3 421.7L80.9 420.8L81.4 421.4L82.0 421.3L82.5 422.0L83.1 421.9L83.6 421.3L84.2 421.2L84.7 421.0L85.3 422.3L85.8 423.0L86.4 421.5L86.9 421.7L87.5 421.6L88.0 420.9L88.6 420.8L89.1 420.8L89.7 419.7L90.2 420.4L90.8 421.3L91.3 421.7L91.9 421.0L92.4 420.7L93.0 421.4L93.5 422.5L94.1 420.5L94.6 420.2L95.2 420.4L95.7 421.1L96.3 420.2L96.8 421.0L97.4 420.2L97.9 421.0L98.5 420.5L99.0 420.3L99.6 421.1L100.1 419.8L100.7 419.8L101.2 420.9L101.8 421.1L102.3 420.7L102.9 418.9L103.4 420.6L104.0 420.6L104.5 420.1L105.1 418.8L105.6 420.6L106.2 421.5L106.7 420.7L107.3 421.2L107.8 419.8L108.4 420.2L108.9 419.6L109.5 419.2L110.0 419.6L110.6 419.3L111.1 419.3L111.7 419.3L112.2 419.5L112.8 419.6L113.3 419.9L113.9 418.9L114.4 419.9L115.0 418.4L115.5 419.6L116.0 419.7L116.6 418.0L117.1 419.1L117.7 420.3L118.2 419.9L118.8 419.1L119.3 418.9L119.9 419.4L120.4 419.3L121.0 419.7L121.5 419.2L122.1 419.6L122.6 419.3L123.1 418.3L123.7 417.9L124.2 418.2L124.8 418.8L125.3 417.9L125.9 419.0L126.4 417.3L126.9 417.9L127.5 417.4L128.0 418.1L128.6 418.0L129.1 417.7L129.6 416.8L130.2 416.9L130.7 416.9L131.3 418.0L131.8 416.9L132.3 417.5L132.9 417.8L133.4 416.5L134.0 416.5L134.5 415.3L135.0 416.1L135.6 416.8L136.1 415.7L136.6 416.2L137.1 416.5L137.6 416.1L138.2 415.3L138.7 415.5L139.2 414.8L139.7 414.7L140.3 416.4L140.8 414.6L141.3 414.1L141.8 414.4L142.3 414.3L142.8 414.2L143.2 413.2L143.7 412.6L144.2 412.4L144.6 413.0L145.1 413.0L145.6 411.8L146.0 411.5L146.5 411.4L147.0 410.9L147.3 410.6L147.6 410.5L147.9 409.6L148.2 409.5L148.6 409.2L148.9 408.3L149.2 408.3L149.5 407.6L149.8 407.0L150.1 406.9L150.4 406.3L150.6 405.7L150.9 405.2L151.1 404.6L151.3 404.1L151.5 403.7L151.7 403.3L151.9 402.7L152.1 402.2L152.4 401.6L152.6 401.2L152.8 400.7L153.0 400.2L153.1 399.6L153.2 399.0L153.4 398.5L153.5 398.0L153.6 397.5L153.8 397.0L153.9 396.5L154.0 395.9L154.2 395.3L154.3 394.8L154.4 394.3L154.6 393.7L154.7 393.3L154.8 392.7L154.9 392.1L155.0 391.6L155.1 391.1L155.2 390.5L155.3 389.9L155.5 389.4L155.6 388.9L155.7 388.4L155.8 387.8L155.9 387.3L156.0 386.8L156.1 386.2L156.2 385.7L156.3 385.1L156.3 384.6L156.4 384.0L156.4 383.5L156.5 382.9L156.5 382.4L156.5 381.8L156.6 381.3L156.6 380.7L156.6 380.2L156.7 379.6L156.7 379.1L156.8 378.5L156.8 378.0L156.9 377.4L157.0 376.9L157.1 376.4L157.2 375.8L157.2 375.3L157.3 374.8L157.4 374.2L157.5 373.6L157.6 373.1L157.7 372.6L157.8 372.0L157.9 371.5L158.0 370.9L158.0 370.4L158.1 369.8L158.2 369.3L158.3 368.8L158.4 368.2L158.5 367.7L158.6 367.1L158.7 366.6L158.7 366.1L158.8 365.5L158.9 365.0L159.0 364.4L159.1 363.9L159.1 363.3L159.1 362.8L159.2 362.2L159.2 361.7L159.3 361.1L159.3 360.6L159.4 360.0L159.4 359.5L159.5 358.9L159.5 358.4L159.6 357.8L159.6 357.3L159.6 356.8L159.7 356.2L159.7 355.6L159.8 355.1L159.8 354.6L159.9 354.0L159.9 353.5L160.0 352.9L160.0 352.4L160.1 351.8L160.1 351.3L160.1 350.7L160.2 350.2L160.2 349.6L160.3 349.1L160.3 348.5L160.4 348.0L160.4 347.4L160.4 346.9L160.5 346.3L160.5 345.8L160.6 345.2L160.6 344.7L160.6 344.1L160.7 343.6L160.7 343.0L160.7 342.5L160.8 341.9L160.8 341.4L160.8 340.8L160.9 340.3L160.9 339.7L160.9 339.2L161.0 338.7L161.0 338.1L161.1 337.6L161.1 337.0L161.1 336.5L161.2 335.9L161.2 335.4L161.2 334.8L161.3 334.3L161.3 333.7L161.3 333.2L161.4 332.6L161.4 332.1L161.4 331.5L161.5 331.0L161.5 330.4L161.6 329.9L161.6 329.3L161.6 328.8L161.7 328.2L161.7 327.7L161.8 327.1L161.8 326.6L161.8 326.0L161.9 325.5L161.9 324.9L161.9 324.4L162.0 323.8L162.0 323.3L162.1 322.7L162.1 322.2L162.1 321.6L162.2 321.1L162.2 320.5L162.3 320.0L162.3 319.4L162.3 318.9L162.4 318.3L162.4 317.8L162.5 317.2L162.5 316.7L162.5 316.2L162.6 315.6L162.6 315.1L162.6 314.5L162.7 314.0L162.7 313.4L162.8 312.9L162.8 312.3L162.9 311.8L163.0 311.2L163.0 310.7L163.1 310.1L163.1 309.6L163.2 309.0L163.2 308.5L163.3 307.9L163.3 307.4L163.4 306.9L163.5 306.3L163.5 305.7L163.6 305.2L163.6 304.6L163.7 304.1L163.7 303.6L163.8 303.0L163.8 302.5L163.9 301.9L164.0 301.4L164.0 300.8L164.1 300.3L164.1 299.7L164.2 299.2L164.2 298.6L164.3 298.1L164.3 297.5L164.4 297.0L164.5 296.4L164.6 295.9L164.6 295.4L164.7 294.8L164.8 294.3L164.9 293.7L165.0 293.2L165.1 292.6L165.2 292.1L165.3 291.6L165.3 291.0L165.4 290.5L165.5 290.0L165.6 289.4L165.7 288.8L165.8 288.3L165.9 287.8L166.0 287.2L166.1 286.7L166.1 286.1L166.2 285.6L166.3 285.1L166.4 284.5L166.5 284.0L166.6 283.4L166.7 282.9L166.8 282.3L166.9 281.8L166.9 281.3L167.0 280.7L167.1 280.2L167.2 279.6L167.3 279.1L167.4 278.6L167.5 278.0L167.6 277.5L167.6 276.9L167.7 276.4L167.8 275.8L167.9 275.3L168.0 274.7L168.0 274.2L168.1 273.6L168.2 273.1L168.3 272.6L168.3 272.0L168.4 271.5L168.5 270.9L168.6 270.4L168.7 269.8L168.7 269.3L168.8 268.7L168.9 268.2L169.0 267.7L169.1 267.1L169.1 266.5L169.2 266.1L169.4 265.5L169.6 264.9L169.8 264.5L170.0 264.0L170.2 263.4L170.4 262.9L170.6 262.4L170.7 261.9L170.9 261.4L171.1 260.8L171.3 260.1L171.5 259.8L171.7 259.4L172.0 258.8L172.3 258.0L172.5 257.8L172.8 257.4L173.1 256.9L173.4 256.4L173.9 255.2L174.4 256.9L174.9 257.3L175.4 257.6L175.9 258.2L176.4 257.7L177.0 258.4L177.5 256.7L178.0 257.5L178.5 256.9L179.1 257.4L179.4 256.5L179.5 256.0L179.7 255.4L179.8 254.9L180.0 254.4L180.1 253.9L180.3 253.4L180.4 252.8L180.6 252.3L180.7 251.7L180.9 251.3L181.0 250.7L181.1 250.1L181.2 249.6L181.3 249.0L181.4 248.5L181.6 248.0L181.7 247.4L181.8 246.9L181.9 246.4L182.0 245.8L182.1 245.3L182.2 244.8L182.3 244.2L182.4 243.7L182.5 243.1L182.6 242.6L182.7 242.0L182.8 241.5L182.9 241.0L183.0 240.4L183.1 239.9L183.2 239.3L183.3 238.8L183.4 238.2L183.4 237.7L183.5 237.2L183.6 236.6L183.7 236.1L183.7 235.5L183.8 235.0L183.9 234.4L184.0 233.9L184.1 233.4L184.1 232.8L184.2 232.3L184.3 231.7L184.4 231.2L184.4 230.6L184.5 230.1L184.6 229.5L184.7 229.0L184.8 228.4L184.9 227.9L184.9 227.4L185.0 226.8L185.1 226.3L185.2 225.7L185.3 225.2L185.4 224.7L185.5 224.1L185.6 223.6L185.7 223.0L185.7 222.5L185.8 221.9L185.9 221.4L186.0 220.8L186.1 220.3L186.2 219.8L186.3 219.2L186.4 218.7L186.5 218.1L186.5 217.6L186.6 217.1L186.7 216.5L186.8 216.0L186.9 215.5L187.0 214.9L187.1 214.4L187.2 213.8L187.3 213.2L187.4 212.7L187.5 212.2L187.6 211.6L187.7 211.1L187.8 210.6L187.9 210.0L188.0 209.5L188.1 208.9L188.2 208.4L188.3 207.9L188.4 207.3L188.5 206.8L188.6 206.2L188.7 205.7L188.8 205.1L188.9 204.6L189.0 204.1L189.1 203.5L189.2 203.0L189.3 202.5L189.4 201.9L189.5 201.4L189.6 200.9L189.7 200.3L189.8 199.7L189.9 199.2L190.0 198.7L190.1 198.1L190.2 197.6L190.2 197.0L190.3 196.5L190.4 195.9L190.5 195.4L190.6 194.9L190.7 194.3L190.8 193.8L190.8 193.2L190.9 192.7L191.0 192.2L191.1 191.6L191.2 191.1L191.3 190.5L191.4 190.0L191.5 189.4L191.5 188.9L191.6 188.4L191.7 187.8L191.8 187.3L191.9 186.7L192.0 186.2L192.1 185.7L192.2 185.1L192.2 184.6L192.3 184.0L192.4 183.5L192.5 182.9L192.6 182.4L192.7 181.8L192.8 181.3L192.9 180.7L193.0 180.2L193.1 179.7L193.2 179.1L193.3 178.6L193.4 178.1L193.5 177.5L193.6 176.9L193.8 176.4L193.9 175.9L194.0 175.4L194.1 174.9L194.2 174.3L194.3 173.8L194.4 173.2L194.5 172.7L194.6 172.2L194.7 171.6L194.9 171.0L195.0 170.5L195.1 169.9L195.2 169.5L195.3 168.9L195.4 168.3L195.5 167.8L195.6 167.3L195.7 166.7L195.8 166.2L196.0 165.7L196.1 165.1L196.2 164.6L196.3 164.0L196.4 163.5L196.5 162.9L196.6 162.4L196.7 161.9L196.8 161.3L196.9 160.8L197.0 160.2L197.1 159.8L197.2 159.2L197.3 158.7L197.4 158.2L197.5 157.6L197.6 157.1L197.7 156.5L197.8 155.9L197.9 155.4L198.0 154.8L198.1 154.3L198.2 153.7L198.3 153.2L198.4 152.7L198.5 152.1L198.6 151.6L198.7 151.0L198.8 150.5L198.9 150.0L199.0 149.5L199.1 148.9L199.2 148.4L199.3 147.8L199.4 147.3L199.5 146.8L199.6 146.2L199.7 145.6L199.8 145.1L199.9 144.6L200.0 144.0L200.1 143.5L200.2 142.9L200.3 142.4L200.5 141.9L200.6 141.3L200.7 140.8L200.8 140.3L200.9 139.8L201.1 139.2L201.2 138.7L201.3 138.1L201.4 137.6L201.5 137.1L201.7 136.6L201.8 136.0L201.9 135.4L202.0 134.9L202.1 134.4L202.3 133.9L202.4 133.3L202.5 132.7L202.6 132.2L202.7 131.7L202.9 131.1L203.0 130.6L203.1 130.1L203.2 129.5L203.3 128.9L203.5 128.4L203.6 127.9L203.7 127.4L203.9 126.8L204.0 126.3L204.2 125.8L204.3 125.3L204.4 124.7L204.6 124.2L204.7 123.7L204.9 123.2L205.0 122.6L205.1 122.0L205.3 121.5L205.4 120.9L205.6 120.5L205.7 120.0L205.8 119.5L206.0 118.8L206.1 118.3L206.3 117.9L206.4 117.3L206.5 116.8L206.7 116.2L206.8 115.7L207.0 115.2L207.1 114.6L207.2 114.1L207.4 113.7L207.5 113.1L207.7 112.6L207.8 112.1L208.0 111.4L208.1 110.9L208.3 110.4L208.4 109.9L208.5 109.4L208.7 108.9L208.8 108.3L209.0 108.0L209.3 107.4L209.5 106.9L209.8 106.3L210.1 105.7L210.3 105.3L210.7 104.6L211.2 103.6L211.6 103.8L212.1 104.6L212.5 103.7L213.0 102.7L213.4 103.1L213.9 103.9L214.3 102.6L214.8 103.4L215.2 102.3L215.7 100.6L216.2 101.3L216.6 102.1L217.1 101.1L217.5 99.9L217.9 100.8L218.3 101.5L218.6 101.2L219.0 102.0L219.3 102.5L219.7 103.2L220.0 103.2L220.4 103.3L220.8 104.2L221.3 104.5L221.7 104.7L222.1 104.8L222.5 105.7L223.0 105.2L223.4 106.0L223.8 104.7L224.3 105.0L224.7 104.6L225.2 104.0L225.6 103.4L226.1 103.5L226.5 102.8L226.9 102.0L227.3 101.9L227.7 101.7L228.1 100.5L228.5 101.2L228.9 99.8L229.3 100.1L229.7 99.7L230.1 98.6L230.5 98.7L230.9 98.1L231.3 98.3L231.8 97.6L232.2 97.6L232.6 97.3L233.0 97.3L233.4 96.1L233.9 97.2L234.5 94.8L235.0 95.1L235.5 95.5L236.1 94.6L236.6 94.4L237.2 95.8L237.7 94.7L238.2 95.5L238.6 96.6L238.9 97.2L239.3 97.1L239.7 97.8L240.1 98.2L240.5 98.5L240.9 98.6L241.3 98.8L241.6 99.2L241.9 100.2L242.2 100.6L242.5 100.9L242.8 101.4L243.1 102.0L243.4 102.5L243.7 102.8L244.0 103.0L244.3 103.8L244.6 104.1L245.0 103.9L245.4 105.3L245.8 106.1L246.2 105.9L246.6 106.0L247.0 106.3L247.4 106.6L247.8 106.9L248.2 107.1L248.6 107.4L249.1 107.6L249.6 107.6L250.0 107.5L250.5 107.5L251.0 106.4L251.5 107.0L252.0 105.9L252.5 105.5L253.0 106.1L253.5 104.6L254.0 105.3L254.5 104.1L255.1 104.7L255.6 105.5L256.1 105.6L256.6 104.2L257.2 103.9L257.7 105.4L258.2 104.7L258.7 105.1L259.3 103.1L259.8 104.6L260.3 103.9L260.8 102.7L261.3 103.1L261.8 103.9L262.3 103.3L262.9 101.9L263.4 101.3L263.9 102.9L264.4 102.1L265.0 101.5L265.5 101.5L266.1 101.2L266.6 100.6L267.1 101.2L267.7 101.6L268.2 100.3L268.7 101.8L269.3 100.6L269.8 101.1L270.4 101.5L270.9 101.5L271.4 101.9L272.0 99.6L272.5 99.0L273.1 99.1L273.6 99.8L274.0 100.1L274.5 99.1L275.0 98.7L275.4 98.7L275.9 98.4L276.3 99.4L276.8 97.8L277.2 98.6L277.7 98.7L278.1 97.3L278.6 96.8L279.0 96.4L279.3 95.9L279.7 95.4L280.1 94.8L280.4 94.9L280.8 94.8L281.2 93.8L281.6 93.9L281.9 93.1L282.2 92.6L282.5 92.3L282.8 91.8L283.1 91.8L283.4 91.3L283.7 90.8L284.0 90.2L284.3 89.3L284.6 88.9L284.9 88.6L285.2 88.5L285.5 87.6L285.8 87.5L286.1 86.4L286.4 86.2L286.7 85.7L287.0 85.6L287.2 85.1L287.5 84.5L287.8 84.1L288.1 83.3L288.4 82.6L288.7 82.7L289.0 82.7L289.3 81.9L289.6 81.1L289.8 80.8L290.1 79.9L290.4 79.7L290.7 79.2L291.0 79.1L291.3 78.5L291.6 78.1L291.9 77.2L292.2 76.9L292.5 76.3L292.8 76.2L293.1 75.7L293.4 75.2L293.6 74.2L293.9 74.5L294.2 73.7L294.5 73.2L294.8 73.3L295.1 72.7L295.4 71.9L295.7 71.5L296.0 70.7L296.2 70.2L296.5 70.1L296.8 69.4L297.1 69.0L297.4 68.3L297.7 67.9L298.0 67.5L298.3 67.0L298.6 67.2L299.0 66.3L299.3 65.9L299.6 65.7L299.9 64.9L300.2 64.7L300.6 63.6L300.9 63.5L301.2 63.3L301.5 62.6L301.9 62.4L302.2 61.8L302.6 61.6L302.9 61.5L303.3 60.6L303.7 59.9L304.1 59.5L304.5 59.5L304.9 59.1L305.3 58.1L305.7 58.6L306.1 58.4L306.4 57.6L306.9 57.5L307.5 57.3L308.0 56.4L308.5 56.6L309.0 56.7L309.5 56.2L310.0 55.2L310.5 54.8L311.0 55.2L311.6 55.4L312.1 55.5L312.6 54.6L313.2 55.9L313.7 56.0L314.2 56.3L314.8 55.4L315.3 56.4L315.8 56.1L316.4 56.5L316.9 55.3L317.4 56.0L317.9 55.7L318.5 55.1L319.0 55.5L319.6 54.9L320.1 55.4L320.7 55.5L321.2 55.6L321.8 55.9L322.2 56.4L322.6 56.0L323.1 56.9L323.5 56.0L324.0 56.8L324.4 58.6L324.9 58.5L325.3 58.5L325.6 59.7L326.0 59.1L326.3 59.6L326.7 59.8L327.1 60.6L327.4 60.7L327.8 60.1L328.4 60.3L328.9 61.0L329.4 62.1L329.9 62.3L330.4 62.7L330.9 62.6L331.3 62.6L331.7 63.8L332.1 63.4L332.5 64.1L332.9 64.1L333.3 64.5L333.7 65.0L334.1 65.2L334.4 66.1L334.8 66.4L335.1 67.1L335.5 67.6L335.8 67.9L336.2 68.1L336.5 68.6L336.9 68.7L337.2 69.4L337.6 69.1L337.9 69.8L338.3 70.7L338.6 70.7L338.9 71.5L339.1 72.1L339.4 72.5L339.6 72.9L339.9 73.6L340.1 74.3L340.3 74.7L340.6 74.8L340.8 75.7L341.1 75.9L341.3 76.7L341.6 77.0L341.8 77.5L342.1 78.2L342.3 78.3L342.6 79.1L342.8 79.4L343.2 80.0L343.6 80.2L344.0 80.5L344.4 80.4L344.8 81.2L345.1 82.0L345.5 81.8L345.9 83.0L346.3 83.2L346.7 82.8L347.1 83.6L347.5 84.2L347.8 84.5L348.2 85.0L348.6 85.6L348.9 85.7L349.3 86.3L349.6 86.5L350.0 86.7L350.4 87.5L350.7 87.7L351.1 88.1L351.4 88.9L351.8 88.4L352.2 89.5L352.6 90.0L353.0 90.3L353.3 90.8L353.7 91.1L354.1 91.6L354.5 91.2L354.9 91.9L355.3 92.6L355.7 92.9L356.1 93.4L356.5 93.4L356.8 94.7L357.2 94.6L357.7 95.2L358.2 95.6L358.6 95.2L359.1 95.4L359.5 95.4L360.0 96.4L360.5 97.3L360.9 97.3L361.4 96.5L361.9 97.9L362.4 98.4L363.0 98.0L363.5 96.9L364.0 96.7L364.5 97.6L365.0 97.4L365.5 98.7L366.1 99.6L366.6 100.0L367.1 100.0L367.6 100.2L368.1 100.5L368.6 100.2L369.1 99.8L369.6 101.5L370.1 102.0L370.5 99.9L371.0 101.8L371.5 101.7L372.1 101.3L372.6 102.7L373.1 101.5L373.6 101.9L374.2 102.2L374.7 103.3L375.2 102.3L375.8 102.8L376.3 102.6L376.8 103.3L377.3 104.2L377.9 104.3L378.4 103.6L379.0 103.6L379.5 102.6L380.1 104.5L380.6 104.1L381.1 104.9L381.7 104.4L382.2 104.2L382.8 104.2L383.3 103.2L383.8 104.8L384.4 105.1L384.9 104.2L385.5 105.0L386.0 104.9L386.6 104.4L387.1 104.2L387.7 103.8L388.2 104.1L388.8 105.7L389.3 105.8L389.8 105.3L390.4 106.0L390.9 105.5L391.5 105.0L392.0 105.7L392.6 105.3L393.1 105.3L393.7 105.8L394.2 104.8L394.8 106.4L395.3 106.0L395.9 105.2L396.4 106.1L397.0 104.9L397.5 104.5L398.1 105.3L398.6 105.9L399.2 105.3L399.7 104.8L400.3 107.1L400.8 106.2L401.4 105.2L401.9 105.3L402.4 105.8L402.8 105.1L403.3 104.1L403.8 105.8L404.3 105.4L404.8 103.4L405.3 104.2L405.8 104.0L406.3 102.9L406.8 102.9L407.3 102.4L407.8 103.0L408.4 103.9L408.9 102.8L409.4 102.2L410.0 103.2L410.5 102.2L411.0 101.4L411.6 101.3L412.1 101.3L412.6 101.9L413.1 102.1L413.7 102.1L414.2 101.9L414.7 100.0L415.3 101.1L415.8 99.9L416.3 100.5L416.8 100.3L417.3 99.6L417.8 99.4L418.3 99.2L418.8 99.5L419.3 99.3L419.8 100.0L420.4 99.0L420.9 98.9L421.4 98.6L421.9 98.0L422.4 98.5L422.9 97.4L423.5 97.9L424.0 97.3L424.6 97.5L425.1 96.4L425.7 96.5L426.2 98.1L426.8 97.9L427.3 98.2L427.9 97.5L428.4 97.0L428.8 97.4L429.3 97.3L429.7 96.1L430.1 95.1L430.6 95.4L431.0 95.4L431.5 94.4L431.9 94.1L432.3 94.6L432.8 94.9L433.3 95.0L433.8 93.7L434.3 93.7L434.8 93.2L435.3 92.4L435.8 92.3L436.2 92.8L436.7 91.7L437.2 91.5L437.7 91.6L438.2 91.0L438.7 90.5L439.2 90.7L439.7 91.3L440.1 90.7L440.6 89.7L441.1 90.0L441.6 89.3L442.0 89.5L442.5 89.1L443.0 88.1L443.5 88.0L443.9 88.2L444.4 88.0L444.9 87.4L445.4 87.5L445.8 86.6L446.3 86.4L446.8 86.3L447.3 85.0L447.9 86.2L448.4 85.5L448.9 85.6L449.4 84.9L449.9 85.7L450.4 85.0L450.9 84.5L451.4 85.3L451.9 84.2L452.4 83.2L452.9 84.6L453.4 83.6L453.9 82.9L454.3 82.9L454.8 83.6L455.3 83.0L455.8 82.0L456.2 82.1L456.7 83.1L457.2 82.2L457.7 82.0L458.1 80.9L458.6 80.6L459.1 81.5L459.6 80.1L460.0 80.1L460.5 80.1L461.0 79.8L461.5 79.1L461.9 79.3L462.4 78.4L462.9 77.6L463.4 78.1L463.9 77.8L464.3 77.2L464.8 77.1L465.3 76.2L465.8 76.7L466.3 77.0L466.8 75.1L467.3 75.2L467.8 75.3L468.3 74.8L468.9 75.5L469.4 76.3L469.9 75.4L470.4 75.9L471.0 75.0L471.5 75.0L472.0 74.2L472.5 74.5L473.0 73.5L473.6 74.9L474.1 73.4L474.7 73.2L475.2 74.0L475.8 73.3L476.3 74.1L476.9 74.2L477.4 73.9L478.0 72.4L478.5 73.4L479.1 73.8L479.6 73.8L480.1 73.8L480.7 73.5L481.2 73.7L481.8 74.4L482.3 74.6L482.9 74.0L483.4 74.8L483.9 75.4L484.5 75.6L485.0 74.9L485.6 76.5L486.1 74.3L486.6 75.5L487.2 75.4L487.7 75.4L488.2 75.4L488.8 75.1L489.3 75.7L489.9 75.6L490.4 75.6L491.0 75.7L491.5 75.7L492.0 76.4L492.6 76.8L493.1 75.8L493.6 75.8L494.1 76.4L494.6 74.7L495.2 75.3L495.7 74.6L496.2 74.9L496.7 74.9L497.2 75.3L497.6 74.9L498.0 75.7L498.4 75.7L498.8 76.6L499.2 76.1L499.6 77.3L500.0 78.0L500.4 78.5L500.8 78.6L501.3 78.5L501.7 78.5L502.1 79.5L502.6 79.7L503.1 78.4L503.7 78.7L504.2 80.0L504.7 79.9L505.2 79.1L505.8 79.4L506.3 79.9L506.8 81.0L507.3 81.3L507.8 81.4L508.4 81.2L508.9 81.4L509.4 81.3L510.0 82.7L510.5 81.0L511.0 82.2L511.6 82.6L512.1 82.4L512.6 80.7L513.2 82.1L513.7 82.4L514.2 82.0L514.8 82.2L515.3 82.5L515.9 83.2L516.4 82.6L516.9 83.4L517.4 82.7L517.9 84.6L518.4 83.2L518.9 83.9L519.4 83.7L519.9 83.9L520.3 85.0L520.8 85.9L521.3 85.1L521.8 85.8L522.3 85.7L522.8 86.6L523.2 85.1L523.7 86.8L524.2 86.8L524.7 87.1L525.1 87.4L525.5 87.3L525.9 88.6L526.3 88.9L526.7 88.8L527.1 89.2L527.5 89.7L527.9 89.4L528.3 90.5L528.7 91.2L529.1 91.4L529.5 91.7L529.9 91.5L530.3 92.1L530.7 92.2L531.1 92.9L531.5 93.6L531.9 95.2L532.4 94.4L532.8 94.6L533.2 94.8L533.6 95.2L534.1 96.1L534.5 95.9L534.9 96.4L535.3 97.0L535.8 96.7L536.2 98.4L536.6 97.7L537.0 98.2L537.5 99.1L537.9 98.8L538.3 97.8L538.8 99.4L539.3 100.1L539.7 100.1L540.2 100.9L540.7 100.8L541.2 101.9L541.6 102.3L542.1 101.7L542.6 102.5L543.1 101.9L543.5 102.6L544.0 103.2L544.5 102.4L544.9 103.3L545.4 102.4L545.9 103.1L546.3 103.5L546.7 104.7L547.0 104.6L547.4 105.8L547.8 105.4L548.2 105.8L548.6 106.0L549.0 106.5L549.3 106.0L549.7 105.7L550.1 105.5L550.5 105.0L550.9 104.3L551.4 103.8L551.9 104.7L552.5 106.1L553.0 106.0L553.5 105.4L554.1 104.9L554.6 106.0L555.1 105.8L555.7 105.3L556.2 105.5L556.7 105.5L557.3 105.3L557.8 106.0L558.3 105.9L558.9 106.4L559.4 106.1L560.0 105.4L560.5 106.5L561.1 107.9L561.6 106.0L562.2 106.9L562.7 106.3L563.3 107.0L563.8 108.8L564.3 108.1L564.9 107.0L565.4 106.9L565.9 107.2L566.4 108.0L566.9 107.8L567.4 107.4L568.0 108.4L568.5 107.2L569.0 108.1L569.5 109.7L570.0 109.0L570.5 109.2L571.0 108.8L571.6 109.0L572.1 108.9L572.6 109.2L573.1 109.1L573.6 108.3L574.2 110.1L574.7 110.0L575.2 111.4L575.7 111.5L576.3 111.7L576.8 112.2L577.3 112.5L577.8 111.6L578.4 112.8L578.9 113.5L579.4 112.8L580.0 111.5L580.5 112.2L581.0 112.6L581.6 112.3L582.1 112.1L582.6 113.9L583.2 113.1L583.7 113.1L584.2 113.8L584.8 113.0L585.2 114.8L585.7 114.3L586.2 114.6L586.7 113.9L587.1 114.5L587.6 115.6L588.1 115.5L588.3 115.9L588.5 116.4L588.7 117.0L588.9 117.3L589.0 118.1L589.2 118.6L589.4 119.1L589.5 119.4L589.7 120.1L589.9 120.7L590.1 120.1L590.3 119.5L590.5 118.9L590.7 118.5L590.9 118.1L591.0 117.4L591.2 116.9L591.4 116.5L591.6 115.9L591.8 115.4L592.4 115.4L592.9 116.1L593.5 115.0L594.0 115.4L594.6 114.8L595.1 116.3L595.7 115.4L596.2 116.7L596.8 115.1L597.3 115.3L597.9 116.4L598.4 115.8L599.0 116.0L599.5 115.4L600.1 115.5L600.6 115.3L601.2 115.8L601.7 116.5L602.3 116.9L602.8 116.6L603.4 114.9L603.9 116.7L604.4 116.9L605.0 116.3L605.5 116.1L606.1 114.6L606.6 115.2L607.2 116.5L607.7 117.2L608.3 116.2L608.8 115.3L609.4 115.6L609.9 115.9L610.4 114.9L611.0 115.5L611.5 115.9L612.1 116.3L612.6 115.2L613.2 114.6L613.7 115.3L614.3 115.0L614.8 115.1L615.4 114.9L615.9 115.3L616.5 114.9L617.0 115.6L617.6 115.2L618.1 114.8L618.7 116.4L619.2 115.8L619.8 115.3L620.3 114.8L620.9 113.7L621.4 115.4L622.0 115.8L622.5 114.8L623.1 115.4L623.6 114.8L624.2 115.4L624.7 115.5L625.3 114.9L625.8 114.9L626.4 115.8L626.9 115.0L627.5 114.2L628.0 114.0L628.6 115.1L629.1 116.7L629.7 115.8L630.2 115.9L630.8 116.2L631.3 115.6L631.9 116.5L632.4 114.2L633.0 115.1L633.5 116.3L634.1 115.7L634.6 116.2L635.2 116.4L635.7 115.5L636.3 114.2L636.8 114.4L637.4 115.4L637.9 116.6L638.4 115.4L639.0 113.4L639.5 114.4L640.0 114.4L640.6 114.4L641.1 114.6L641.6 111.8L642.2 115.4L642.7 114.8L643.2 114.3L643.8 114.0L644.3 112.8L644.8 113.1L645.4 114.5L645.9 113.7L646.4 113.5L647.0 112.8L647.5 112.5L648.0 112.6L648.5 113.2L649.1 113.2L649.6 112.9L650.1 111.3L650.7 111.5L651.2 111.6L651.7 110.9L652.3 111.7L652.8 110.7L653.3 112.6L653.9 111.4L654.4 110.9L654.9 110.1L655.5 110.4L656.0 111.5L656.6 109.4L657.1 109.8L657.7 111.0L658.2 108.3L658.7 109.7L659.3 109.2L659.8 110.4L660.4 109.0L660.9 108.4L661.4 109.1L662.0 110.5L662.5 109.2L663.1 109.3L663.6 109.3L664.2 108.5L664.7 108.6L665.2 108.7L665.8 109.1L666.3 108.7L666.9 108.4L667.4 107.3L667.9 109.5L668.5 108.2L669.0 107.9L669.5 108.3L670.0 108.8L670.6 107.8L671.1 107.6L671.6 106.5L672.1 107.0L672.6 107.1L673.2 106.3L673.7 106.8L674.2 105.6L674.7 107.2L675.3 105.2L675.8 106.5L676.4 105.3L676.9 106.0L677.4 106.6L678.0 104.4L678.5 105.1" stroke="#2543FF"/>
<path d="M55.6 389.9L56.1 388.6L56.7 388.6L57.2 388.3L57.8 386.3L58.3 388.2L58.9 386.8L59.4 388.4L60.0 387.9L60.5 389.5L61.1 388.4L61.6 388.5L62.2 387.4L62.7 389.0L63.3 388.3L63.8 389.1L64.4 389.3L64.9 389.3L65.5 388.3L66.0 386.4L66.6 386.8L67.1 388.9L67.7 389.4L68.2 389.8L68.8 387.9L69.3 387.2L69.9 389.0L70.4 389.3L71.0 388.5L71.5 388.3L72.1 387.0L72.6 388.0L73.2 389.7L73.7 387.7L74.3 387.9L74.8 388.3L75.4 388.2L75.9 386.7L76.5 387.9L77.0 388.0L77.6 388.3L78.1 388.4L78.6 389.0L79.1 388.4L79.6 390.9L80.1 389.7L80.6 391.2L81.1 391.6L81.6 390.7L82.1 389.9L82.5 389.1L82.9 388.9L83.2 389.1L83.6 389.0L84.0 388.2L84.3 387.8L84.7 388.9L85.0 387.6L85.4 386.4L85.8 386.7L86.2 385.7L86.7 384.6L87.1 386.7L87.6 386.5L88.1 387.3L88.6 389.0L89.0 388.2L89.5 387.6L90.0 389.8L90.6 386.4L91.1 386.9L91.7 389.6L92.2 390.1L92.7 388.2L93.3 387.5L93.8 388.4L94.4 388.5L94.9 388.3L95.5 387.6L96.0 386.6L96.6 387.0L97.1 387.4L97.7 387.4L98.2 387.1L98.8 387.7L99.3 386.1L99.9 388.7L100.4 389.6L101.0 387.7L101.5 386.7L102.1 388.3L102.6 388.8L103.2 388.2L103.7 389.4L104.3 388.0L104.8 387.3L105.4 389.9L105.9 388.3L106.5 388.2L107.0 386.5L107.5 388.2L108.1 388.4L108.6 389.1L109.1 390.0L109.7 389.8L110.2 388.5L110.7 390.6L111.3 390.4L111.8 390.6L112.3 390.2L112.9 390.1L113.4 388.6L113.9 388.1L114.4 388.6L114.9 388.5L115.4 389.2L116.0 385.9L116.5 387.7L117.0 387.6L117.5 389.2L118.0 387.7L118.6 387.5L119.1 388.0L119.7 388.5L120.2 386.0L120.8 386.4L121.3 388.4L121.9 388.3L122.4 388.0L123.0 389.5L123.5 386.5L124.1 387.8L124.6 387.3L125.2 388.1L125.7 387.1L126.3 388.0L126.8 390.6L127.4 388.9L127.9 388.2L128.5 389.6L129.0 388.8L129.6 390.2L130.1 387.3L130.7 386.6L131.2 385.5L131.8 386.4L132.3 385.6L132.9 389.0L133.4 388.0L134.0 388.3L134.5 388.0L135.0 387.6L135.6 387.2L136.1 385.8L136.6 388.3L137.2 386.8L137.7 388.5L138.2 387.5L138.7 385.3L139.3 385.7L139.8 385.7L140.3 385.3L140.9 385.1L141.4 385.5L141.9 384.9L142.4 384.5L143.0 385.0L143.5 384.9L144.0 384.2L144.5 384.8L145.0 383.9L145.5 384.3L146.0 383.9L146.5 384.6L147.0 382.3L147.4 383.9L147.8 382.6L148.2 383.0L148.7 381.7L149.1 381.4L149.5 381.4L149.9 380.6L150.3 380.3L150.6 380.0L150.9 379.9L151.2 378.8L151.4 378.6L151.7 378.5L152.0 377.7L152.3 377.5L152.5 376.4L152.8 376.1L152.9 375.7L153.1 375.2L153.3 374.6L153.4 374.2L153.6 373.6L153.8 373.2L154.0 372.6L154.1 372.1L154.3 371.7L154.4 371.1L154.5 370.5L154.5 370.0L154.6 369.4L154.6 368.9L154.7 368.3L154.7 367.8L154.8 367.2L154.8 366.7L154.9 366.1L154.9 365.6L155.0 365.0L155.0 364.5L155.0 363.9L155.1 363.4L155.1 362.8L155.2 362.3L155.2 361.7L155.3 361.2L155.4 360.6L155.4 360.1L155.5 359.6L155.6 359.0L155.6 358.5L155.7 357.9L155.8 357.4L155.8 356.8L155.9 356.3L156.0 355.7L156.0 355.2L156.1 354.7L156.2 354.1L156.2 353.5L156.3 353.0L156.4 352.5L156.5 351.9L156.5 351.4L156.6 350.8L156.7 350.3L156.7 349.7L156.8 349.2L156.9 348.7L156.9 348.1L157.0 347.6L157.1 347.0L157.1 346.5L157.1 345.9L157.2 345.4L157.2 344.8L157.3 344.3L157.3 343.7L157.4 343.2L157.4 342.6L157.5 342.1L157.5 341.5L157.6 341.0L157.6 340.4L157.7 339.9L157.7 339.3L157.8 338.8L157.8 338.2L157.9 337.7L157.9 337.2L158.0 336.6L158.0 336.0L158.1 335.5L158.1 335.0L158.2 334.4L158.2 333.8L158.3 333.3L158.3 332.8L158.4 332.2L158.4 331.7L158.5 331.1L158.5 330.6L158.5 330.0L158.6 329.5L158.6 328.9L158.6 328.4L158.7 327.8L158.7 327.3L158.7 326.7L158.8 326.2L158.8 325.6L158.8 325.1L158.9 324.5L158.9 324.0L158.9 323.4L159.0 322.9L159.0 322.3L159.0 321.8L159.1 321.2L159.1 320.7L159.1 320.1L159.2 319.6L159.2 319.0L159.2 318.5L159.3 317.9L159.3 317.4L159.3 316.8L159.4 316.3L159.4 315.7L159.4 315.2L159.4 314.6L159.5 314.1L159.5 313.6L159.6 313.0L159.6 312.5L159.7 311.9L159.7 311.4L159.8 310.8L159.9 310.3L159.9 309.7L160.0 309.2L160.0 308.6L160.1 308.1L160.1 307.5L160.2 307.0L160.2 306.4L160.3 305.9L160.4 305.3L160.4 304.8L160.5 304.2L160.5 303.7L160.6 303.2L160.6 302.6L160.7 302.0L160.7 301.5L160.8 301.0L160.8 300.4L160.9 299.9L161.0 299.3L161.0 298.8L161.1 298.2L161.1 297.7L161.2 297.1L161.3 296.6L161.4 296.1L161.5 295.5L161.6 295.0L161.7 294.4L161.8 293.9L161.9 293.3L162.0 292.8L162.1 292.2L162.2 291.7L162.3 291.2L162.4 290.6L162.5 290.1L162.6 289.6L162.7 289.0L162.8 288.4L162.9 287.9L163.0 287.4L163.1 286.8L163.1 286.3L163.2 285.8L163.3 285.2L163.3 284.7L163.4 284.1L163.5 283.6L163.5 283.0L163.6 282.5L163.6 281.9L163.7 281.4L163.8 280.8L163.8 280.3L163.9 279.7L164.0 279.2L164.0 278.7L164.1 278.1L164.2 277.6L164.2 277.0L164.3 276.5L164.3 275.9L164.4 275.4L164.5 274.8L164.5 274.3L164.6 273.7L164.7 273.2L164.7 272.6L164.8 272.1L164.8 271.5L164.9 271.0L165.0 270.5L165.0 269.9L165.1 269.4L165.2 268.8L165.3 268.3L165.3 267.7L165.4 267.2L165.5 266.6L165.5 266.1L165.6 265.5L165.7 265.0L165.7 264.5L165.8 263.9L165.9 263.4L165.9 262.8L166.0 262.3L166.1 261.7L166.1 261.2L166.2 260.6L166.3 260.1L166.4 259.6L166.4 259.0L166.5 258.4L166.6 257.9L166.6 257.4L166.7 256.8L166.8 256.3L166.9 255.7L167.0 255.2L167.1 254.7L167.2 254.1L167.3 253.6L167.4 253.0L167.5 252.5L167.6 251.9L167.6 251.4L167.7 250.9L167.8 250.3L167.9 249.8L168.0 249.2L168.1 248.7L168.2 248.2L168.3 247.6L168.5 247.1L168.8 246.8L169.0 246.1L169.3 245.7L169.5 245.0L169.8 244.5L170.0 244.0L170.3 243.5L170.5 243.1L170.9 241.9L171.2 242.2L171.6 241.9L172.0 241.2L172.3 240.7L172.7 240.6L173.1 240.1L173.4 240.7L173.8 240.9L174.2 240.7L174.6 240.8L175.0 241.5L175.5 240.4L175.9 240.1L176.4 240.8L176.9 239.2L177.3 239.7L177.7 239.4L177.9 239.1L178.1 238.7L178.3 238.1L178.5 237.7L178.7 237.1L179.0 236.8L179.2 236.2L179.4 235.8L179.6 235.4L179.8 234.7L180.0 233.9L180.2 233.5L180.2 233.0L180.3 232.5L180.4 231.9L180.5 231.4L180.6 230.9L180.7 230.3L180.8 229.8L180.9 229.2L181.0 228.7L181.1 228.2L181.2 227.6L181.2 227.1L181.3 226.5L181.4 226.0L181.5 225.4L181.6 224.9L181.7 224.4L181.8 223.8L181.9 223.3L182.0 222.8L182.2 222.1L182.3 221.7L182.4 221.1L182.5 220.6L182.7 220.1L182.8 219.5L182.9 219.0L183.0 218.5L183.2 217.9L183.3 217.4L183.4 216.8L183.5 216.3L183.6 215.7L183.8 215.2L183.9 214.7L184.0 214.2L184.1 213.6L184.3 213.0L184.4 212.5L184.5 212.0L184.6 211.4L184.8 211.0L184.9 210.4L185.0 209.9L185.1 209.3L185.2 208.7L185.3 208.2L185.4 207.8L185.6 207.1L185.7 206.6L185.8 206.1L185.9 205.5L186.0 205.0L186.1 204.4L186.2 204.0L186.4 203.4L186.5 202.8L186.6 202.3L186.7 201.8L186.8 201.3L186.9 200.8L187.0 200.2L187.2 199.7L187.3 199.1L187.4 198.6L187.5 198.1L187.6 197.5L187.7 197.0L187.7 196.4L187.8 195.9L187.9 195.3L188.0 194.8L188.1 194.2L188.2 193.7L188.3 193.1L188.3 192.6L188.4 192.1L188.5 191.5L188.6 190.9L188.7 190.4L188.8 189.9L188.9 189.3L189.0 188.8L189.0 188.3L189.1 187.7L189.2 187.1L189.3 186.6L189.4 186.1L189.5 185.6L189.6 185.0L189.7 184.5L189.7 183.9L189.8 183.4L189.9 182.9L190.0 182.3L190.1 181.7L190.2 181.2L190.3 180.7L190.4 180.1L190.5 179.5L190.6 179.0L190.7 178.5L190.8 177.9L190.9 177.4L191.0 176.8L191.1 176.3L191.1 175.8L191.2 175.2L191.3 174.7L191.4 174.1L191.5 173.6L191.6 173.1L191.7 172.5L191.8 172.0L191.9 171.5L192.0 171.0L192.1 170.3L192.2 169.8L192.3 169.3L192.4 168.7L192.5 168.2L192.6 167.6L192.7 167.1L192.8 166.5L192.9 166.0L193.0 165.5L193.1 165.0L193.2 164.4L193.3 163.9L193.4 163.3L193.5 162.8L193.6 162.3L193.7 161.7L193.8 161.2L193.8 160.6L193.9 160.1L194.0 159.5L194.1 159.0L194.2 158.5L194.3 157.9L194.4 157.4L194.5 156.8L194.6 156.3L194.7 155.7L194.8 155.2L194.8 154.7L194.9 154.1L195.0 153.6L195.1 153.0L195.2 152.4L195.3 152.0L195.4 151.4L195.5 150.8L195.6 150.3L195.7 149.8L195.7 149.3L195.8 148.7L195.9 148.2L196.0 147.6L196.1 147.0L196.2 146.5L196.3 146.0L196.4 145.5L196.5 144.9L196.5 144.3L196.6 143.8L196.7 143.3L196.8 142.7L196.9 142.1L197.0 141.6L197.1 141.1L197.2 140.5L197.3 140.0L197.3 139.4L197.4 138.9L197.5 138.3L197.6 137.8L197.7 137.3L197.8 136.8L197.9 136.1L198.0 135.7L198.1 135.1L198.2 134.6L198.3 134.0L198.4 133.5L198.5 133.0L198.6 132.4L198.7 131.9L198.8 131.3L198.9 130.8L199.0 130.2L199.1 129.7L199.2 129.1L199.3 128.6L199.4 128.1L199.5 127.5L199.6 127.0L199.7 126.4L199.7 125.9L199.8 125.3L199.9 124.8L200.0 124.3L200.1 123.7L200.2 123.2L200.2 122.6L200.3 122.1L200.4 121.5L200.4 121.0L200.5 120.5L200.6 119.9L200.6 119.4L200.7 118.8L200.8 118.3L200.9 117.7L200.9 117.2L201.0 116.6L201.1 116.1L201.1 115.5L201.2 115.0L201.3 114.4L201.3 113.9L201.4 113.4L201.5 112.9L201.5 112.3L201.6 111.7L201.7 111.2L201.7 110.6L201.8 110.1L201.9 109.5L202.0 109.0L202.0 108.5L202.1 107.9L202.2 107.4L202.3 106.8L202.3 106.2L202.4 105.7L202.5 105.2L202.5 104.6L202.6 104.1L202.7 103.5L202.8 103.0L202.8 102.4L202.9 101.9L203.0 101.4L203.0 100.8L203.1 100.3L203.2 99.7L203.3 99.2L203.3 98.6L203.4 98.1L203.5 97.5L203.5 97.0L203.6 96.4L203.7 95.9L203.8 95.4L203.8 94.8L203.9 94.3L204.0 93.7L204.1 93.2L204.2 92.6L204.2 92.1L204.3 91.6L204.4 91.0L204.5 90.4L204.5 89.9L204.6 89.4L204.7 88.8L204.8 88.3L204.9 87.7L204.9 87.2L205.0 86.6L205.1 86.1L205.2 85.6L205.2 85.0L205.3 84.5L205.4 83.9L205.4 83.4L205.5 82.8L205.5 82.3L205.5 81.7L205.6 81.2L205.6 80.6L205.6 80.1L205.7 79.5L205.7 79.0L205.7 78.4L205.8 77.9L205.8 77.3L205.8 76.8L205.9 76.2L205.9 75.7L205.9 75.1L206.0 74.6L206.0 74.0L206.0 73.5L206.0 72.9L206.1 72.4L206.2 72.1L206.5 71.5L206.8 71.1L207.1 70.4L207.4 70.1L207.7 69.1L208.0 69.1L208.3 69.6L208.9 68.1L209.4 68.7L209.9 67.8L210.4 68.9L211.0 67.6L211.5 69.3L212.0 68.7L212.5 67.8L213.0 68.7L213.4 68.8L213.7 69.5L213.9 70.0L214.2 70.8L214.5 71.2L214.7 71.9L215.0 72.1L215.2 72.6L215.5 72.5L215.8 73.3L216.0 73.9L216.3 74.2L216.7 75.0L217.0 74.9L217.3 75.7L217.6 76.1L217.9 76.4L218.2 76.9L218.6 77.1L219.1 78.0L219.6 78.2L220.2 78.7L220.7 78.6L221.2 77.3L221.7 77.9L222.1 77.5L222.4 77.6L222.7 77.5L223.0 76.7L223.3 76.3L223.6 75.8L223.9 75.1L224.2 75.0L224.5 74.3L224.7 73.9L224.8 73.2L225.0 73.0L225.2 72.4L225.4 71.8L225.6 71.3L225.8 70.9L226.0 70.2L226.1 69.8L226.3 69.3L226.5 68.7L226.7 68.3L226.9 67.7L227.1 67.1L227.3 66.8L227.4 66.2L227.6 65.7L227.8 65.1L228.0 64.6L228.2 64.1L228.4 63.5L228.6 62.9L228.8 62.5L228.9 62.0L229.1 61.5L229.3 61.1L229.5 60.3L229.7 59.9L229.9 59.6L230.1 58.9L230.3 58.5L230.5 57.9L230.6 57.3L230.8 56.9L231.0 56.2L231.3 56.2L231.5 55.5L231.8 54.9L232.1 54.2L232.3 53.9L232.6 53.6L232.9 52.9L233.2 52.8L233.4 51.9L233.7 51.4L234.0 50.8L234.2 51.1L234.5 52.2L234.7 52.4L235.0 52.7L235.3 53.7L235.5 53.7L235.8 54.4L236.0 55.0L236.2 55.5L236.4 56.0L236.6 56.4L236.7 57.1L236.9 57.4L237.0 57.9L237.2 58.4L237.3 59.1L237.5 59.6L237.6 60.2L237.8 60.6L238.0 61.1L238.1 61.6L238.3 62.3L238.4 62.9L238.6 63.1L238.7 63.9L238.9 64.5L239.2 64.9L239.4 65.3L239.6 65.8L239.8 66.3L240.0 66.8L240.2 67.3L240.4 68.0L240.6 68.5L240.8 68.9L241.0 69.5L241.2 70.0L241.4 70.5L241.6 70.9L241.8 71.5L242.0 72.0L242.4 72.2L242.8 73.1L243.2 72.7L243.5 73.8L243.9 73.4L244.3 74.5L244.7 75.5L245.1 75.6L245.5 75.7L246.0 75.2L246.4 75.5L246.9 73.8L247.4 74.0L247.9 73.8L248.3 73.4L248.8 73.2L249.3 73.2L249.7 73.2L250.3 72.3L250.8 72.9L251.3 72.3L251.8 72.8L252.3 72.2L252.8 71.1L253.3 70.7L253.8 73.1L254.3 71.4L254.8 69.5L255.3 69.0L255.8 70.3L256.3 69.4L256.8 70.0L257.3 69.0L257.8 69.6L258.3 69.4L258.8 68.2L259.3 68.4L259.9 68.4L260.3 69.1L260.8 67.0L261.3 67.3L261.8 66.9L262.3 67.2L262.8 68.1L263.3 67.2L263.8 64.8L264.3 66.2L264.8 66.4L265.3 65.2L265.9 64.7L266.4 66.0L266.9 65.0L267.5 64.9L268.0 65.2L268.5 64.1L269.0 65.5L269.6 64.7L270.1 65.0L270.6 64.1L271.2 65.1L271.7 64.9L272.2 64.7L272.8 64.6L273.3 63.0L273.8 63.2L274.4 62.9L274.9 64.3L275.4 63.4L275.8 62.8L276.3 62.5L276.7 62.6L277.2 62.0L277.6 61.8L278.1 61.6L278.5 60.3L279.0 60.2L279.4 60.4L279.9 59.4L280.3 60.1L280.8 60.5L281.2 59.1L281.5 58.7L281.9 58.1L282.3 57.9L282.6 57.7L283.0 57.2L283.3 56.8L283.7 56.1L284.0 56.0L284.4 55.6L284.7 55.3L285.1 54.8L285.4 53.9L285.7 53.5L285.9 53.1L286.1 52.7L286.3 52.0L286.6 51.8L286.8 51.2L287.0 50.7L287.2 50.3L287.5 49.6L287.7 49.0L287.9 48.6L288.1 48.1L288.4 47.5L288.6 47.0L288.8 46.3L289.1 46.3L289.3 45.5L289.5 44.9L289.7 44.5L290.0 44.0L290.2 43.4L290.4 42.9L290.6 42.3L290.9 42.0L291.1 41.7L291.3 41.2L291.5 40.7L291.8 40.0L292.0 39.5L292.2 39.2L292.4 38.8L292.7 38.0L292.9 37.6L293.1 37.3L293.4 36.6L293.6 36.0L293.8 35.5L294.0 35.0L294.2 34.3L294.4 33.9L294.6 33.3L294.9 32.9L295.1 32.2L295.3 31.8L295.5 31.3L295.7 30.8L295.9 30.3L296.1 30.1L296.3 29.5L296.6 29.2L296.8 28.5L297.0 28.1L297.2 27.4L297.4 26.8L297.6 26.3L297.8 25.9L298.0 25.2L298.3 24.8L298.5 24.1L298.7 24.0L298.9 23.2L299.2 22.9L299.4 22.5L299.6 21.9L299.9 21.4L300.1 21.2L300.3 20.3L300.5 19.6L300.8 19.5L301.0 19.0L301.2 18.4L301.5 18.0L301.7 17.4L301.9 17.0L302.2 16.3L302.4 15.7L302.6 15.1L302.9 14.9L303.1 14.4L303.4 14.0L303.6 13.3L303.8 13.0L304.1 12.2L304.3 12.0L304.6 11.6L304.8 10.8L305.2 11.1L305.7 10.6L306.1 10.1L306.5 9.3L307.0 8.7L307.4 10.0L307.8 9.5L308.2 9.3L308.5 10.3L308.9 10.1L309.3 10.0L309.7 11.0L310.1 11.7L310.5 12.2L310.9 12.6L311.5 12.8L312.0 13.6L312.5 13.6L313.0 12.3L313.5 13.8L314.1 13.3L314.6 12.2L315.1 12.7L315.6 12.6L316.1 13.9L316.6 12.9L316.9 13.0L317.2 13.7L317.5 14.0L317.8 14.4L318.0 15.1L318.3 15.5L318.6 16.1L318.9 16.4L319.2 17.0L319.5 17.6L319.8 17.9L320.1 18.5L320.3 19.3L320.6 19.4L320.9 19.6L321.2 20.0L321.5 20.9L321.8 21.3L322.1 21.7L322.4 21.9L322.7 22.8L322.9 23.0L323.2 23.8L323.5 23.9L323.7 24.2L324.0 25.0L324.2 25.3L324.5 25.8L324.7 26.2L325.0 26.6L325.2 27.1L325.5 27.5L325.7 28.4L326.0 28.7L326.2 29.4L326.5 29.9L326.7 30.5L326.9 30.8L327.2 31.6L327.4 31.5L327.7 32.2L327.9 32.8L328.1 33.1L328.4 34.0L328.6 34.4L328.8 34.6L329.0 35.1L329.3 35.8L329.5 36.3L329.7 37.0L329.9 37.3L330.2 37.5L330.4 38.4L330.6 38.8L330.8 39.3L331.1 39.7L331.3 40.4L331.5 40.5L331.8 41.2L332.0 41.8L332.2 42.2L332.4 42.9L332.7 43.4L332.9 43.9L333.1 44.3L333.4 44.8L333.6 45.4L333.8 45.9L334.1 46.4L334.3 46.8L334.5 47.4L334.8 47.7L335.0 48.4L335.2 48.8L335.4 49.3L335.7 49.7L335.9 50.2L336.1 50.5L336.4 51.1L336.6 51.6L336.8 52.3L337.0 52.5L337.3 53.0L337.5 53.5L337.7 54.5L337.9 54.7L338.2 55.3L338.4 55.9L338.6 56.4L338.9 56.8L339.1 57.4L339.3 57.8L339.5 58.3L339.8 58.7L340.0 59.3L340.2 59.8L340.5 60.2L340.7 60.8L341.0 61.2L341.3 61.9L341.5 62.3L341.8 62.5L342.1 63.2L342.3 63.6L342.6 64.2L342.9 64.7L343.1 65.0L343.4 65.4L343.7 66.1L343.9 66.7L344.2 66.6L344.5 67.5L344.8 68.0L345.2 67.7L345.6 68.4L346.0 69.6L346.5 69.7L346.9 70.3L347.3 70.9L347.7 70.5L348.1 70.9L348.5 71.2L348.9 71.1L349.3 72.7L349.7 71.9L350.2 72.4L350.7 73.2L351.1 73.3L351.6 75.0L352.1 73.5L352.6 73.8L353.0 74.4L353.5 73.7L354.0 75.2L354.5 75.1L355.0 75.2L355.5 75.0L356.0 76.2L356.5 76.9L357.0 75.8L357.5 75.4L358.0 75.8L358.5 76.7L359.1 76.4L359.6 74.3L360.2 75.5L360.7 74.6L361.3 76.7L361.7 77.3L362.1 77.4L362.5 76.9L362.9 77.4L363.3 79.2L363.6 80.3L364.0 80.0L364.4 80.3L364.8 80.1L365.2 80.5L365.6 81.4L366.0 81.4L366.5 82.0L366.9 81.7L367.3 82.6L367.7 82.4L368.1 84.0L368.5 83.5L368.9 83.7L369.3 84.4L369.8 84.7L370.2 85.6L370.7 84.6L371.2 86.6L371.7 86.3L372.2 86.3L372.6 86.4L373.1 86.6L373.6 85.6L374.1 86.5L374.6 88.3L375.1 88.2L375.6 88.7L376.2 87.3L376.7 87.7L377.3 87.7L377.8 87.6L378.4 87.5L378.9 88.5L379.5 86.7L380.0 88.8L380.6 87.6L381.1 88.4L381.7 86.6L382.2 88.2L382.8 88.7L383.3 88.7L383.9 88.7L384.4 90.0L385.0 88.3L385.5 86.8L386.0 87.9L386.6 87.1L387.1 88.3L387.6 87.9L388.2 87.6L388.7 86.5L389.2 87.0L389.8 87.5L390.3 85.6L390.8 86.7L391.4 87.5L391.9 85.4L392.4 85.9L393.0 86.7L393.5 86.4L394.0 85.4L394.6 85.7L395.1 85.8L395.6 85.6L396.2 85.2L396.7 84.6L397.2 84.9L397.8 84.7L398.3 84.2L398.8 84.3L399.4 83.9L399.9 83.9L400.4 84.7L400.9 84.2L401.4 82.4L401.9 81.7L402.5 83.2L403.0 83.6L403.5 82.3L404.0 81.9L404.5 81.6L405.0 81.3L405.5 82.1L406.0 81.2L406.5 81.8L407.0 81.2L407.5 80.6L408.0 81.1L408.4 80.5L408.9 81.0L409.4 79.9L409.9 78.9L410.4 80.3L410.9 79.1L411.3 79.0L411.8 79.5L412.3 78.9L412.8 78.1L413.2 78.3L413.7 78.6L414.1 77.9L414.6 76.8L415.1 76.5L415.5 75.9L416.0 74.9L416.4 74.6L416.9 74.3L417.4 75.1L417.8 74.1L418.3 75.8L418.7 74.1L419.2 74.3L419.7 73.7L420.1 73.6L420.6 72.4L421.0 72.7L421.5 72.3L421.9 72.2L422.4 72.2L422.9 71.9L423.3 71.1L423.8 71.2L424.2 71.0L424.7 70.4L425.1 69.7L425.6 69.8L426.0 69.4L426.5 68.9L426.9 68.6L427.4 68.5L427.8 68.3L428.2 67.0L428.7 66.5L429.1 66.7L429.6 66.5L430.0 65.6L430.4 65.8L430.9 66.0L431.3 64.6L431.8 65.0L432.2 63.4L432.6 63.9L433.0 64.1L433.3 63.0L433.7 62.2L434.1 62.3L434.4 61.2L434.8 61.9L435.1 61.0L435.5 60.8L435.9 60.6L436.2 59.9L436.6 59.8L436.9 59.2L437.3 58.9L437.6 58.4L438.0 57.6L438.3 57.7L438.6 57.1L439.0 56.5L439.3 56.4L439.6 55.9L440.0 55.5L440.3 55.0L440.6 54.5L441.0 53.9L441.3 53.3L441.6 52.9L441.9 52.8L442.3 52.1L442.6 51.9L442.9 51.5L443.2 51.2L443.5 50.9L443.8 50.1L444.1 49.4L444.4 48.7L444.7 48.1L445.0 47.9L445.3 47.3L445.6 47.4L445.9 46.7L446.2 45.9L446.5 45.6L446.8 45.2L447.1 44.7L447.4 44.2L447.8 43.8L448.1 43.5L448.4 43.3L448.7 42.5L449.0 41.7L449.4 41.7L449.7 41.3L450.0 40.3L450.3 40.4L450.7 40.1L451.0 39.6L451.3 39.0L451.6 38.7L452.0 37.6L452.4 37.7L452.9 38.2L453.4 36.5L453.9 37.7L454.4 36.3L454.9 36.3L455.4 36.7L455.9 35.6L456.4 35.4L456.9 34.1L457.4 36.1L458.0 35.6L458.5 35.2L459.0 34.5L459.5 34.7L460.0 36.1L460.6 36.6L461.1 33.6L461.6 33.5L462.2 34.2L462.7 35.3L463.2 35.2L463.8 33.1L464.3 32.8L464.9 32.9L465.4 33.6L466.0 32.9L466.5 33.4L467.1 33.9L467.6 32.7L468.1 33.3L468.7 34.7L469.2 33.4L469.8 33.3L470.3 34.0L470.9 34.7L471.4 33.0L471.9 34.7L472.5 34.0L473.0 35.2L473.5 33.5L474.0 35.7L474.5 35.4L475.0 34.7L475.5 36.1L476.0 35.2L476.5 35.6L477.0 36.1L477.5 36.6L478.0 37.0L478.4 36.6L478.9 36.7L479.4 36.6L479.8 37.9L480.3 38.5L480.8 38.7L481.3 39.2L481.7 40.3L482.2 39.9L482.6 39.5L483.0 40.3L483.5 40.9L483.9 41.1L484.4 41.7L484.8 42.2L485.2 41.0L485.7 40.9L486.1 42.1L486.5 42.1L487.0 43.6L487.3 43.3L487.7 44.2L488.1 44.6L488.5 46.2L488.9 44.8L489.3 46.2L489.6 45.6L490.0 45.6L490.4 46.6L490.8 47.2L491.2 47.7L491.6 48.2L491.9 48.5L492.3 48.6L492.7 48.9L493.1 49.8L493.5 50.0L493.9 50.6L494.3 51.5L494.7 50.8L495.0 51.3L495.4 51.8L495.8 51.6L496.2 52.5L496.6 53.4L497.0 53.2L497.4 54.3L497.8 54.2L498.2 54.5L498.6 54.7L499.0 55.4L499.4 56.0L499.7 56.2L500.1 56.6L500.5 57.1L500.9 56.5L501.3 57.1L501.7 57.4L502.1 58.1L502.5 58.9L502.8 58.7L503.2 59.4L503.6 60.1L504.0 60.0L504.4 60.3L504.8 60.9L505.2 62.2L505.5 61.6L505.9 63.4L506.3 62.5L506.7 62.8L507.1 62.4L507.5 62.9L508.0 64.6L508.4 64.5L508.9 65.2L509.3 65.2L509.8 64.8L510.2 65.5L510.7 66.0L511.1 66.1L511.5 66.6L512.0 67.5L512.4 68.1L512.9 68.3L513.3 68.8L513.8 68.8L514.2 68.5L514.6 68.8L515.0 69.0L515.4 70.1L515.8 71.0L516.2 70.7L516.6 70.6L517.1 71.1L517.5 72.4L517.9 72.3L518.3 72.9L518.7 73.7L519.1 73.8L519.5 73.5L519.9 73.6L520.4 73.4L520.7 74.9L520.9 75.1L521.2 75.8L521.4 76.4L521.7 76.8L521.9 77.2L522.2 77.4L522.4 78.2L522.7 78.3L522.9 79.1L523.2 79.3L523.6 79.4L524.0 80.1L524.3 80.2L524.7 81.7L525.1 81.4L525.5 82.1L525.9 82.6L526.3 82.3L526.6 82.7L527.0 83.1L527.4 83.6L527.8 84.2L528.2 84.4L528.5 85.1L528.9 85.9L529.4 85.2L529.8 85.7L530.3 86.3L530.7 86.9L531.2 87.1L531.6 86.4L532.0 87.6L532.5 87.5L532.9 88.2L533.4 88.7L533.8 88.3L534.3 89.4L534.7 89.1L535.2 90.3L535.6 90.3L536.1 90.2L536.6 91.2L537.1 90.8L537.7 91.7L538.2 90.6L538.7 91.7L539.2 90.1L539.8 91.9L540.3 93.4L540.8 92.6L541.3 93.0L541.9 92.8L542.4 92.8L542.9 92.4L543.5 92.0L544.0 91.6L544.6 91.6L545.1 92.7L545.7 93.1L546.2 92.3L546.8 93.3L547.3 91.7L547.9 93.2L548.4 93.6L549.0 92.2L549.5 91.4L550.0 91.8L550.5 91.4L551.0 92.2L551.5 90.6L552.0 90.0L552.5 90.2L553.0 89.4L553.5 88.8L554.0 89.4L554.5 89.3L555.0 88.2L555.5 90.1L556.0 88.2L556.4 88.1L556.9 88.2L557.4 88.4L557.9 87.3L558.4 87.6L558.9 86.3L559.4 87.1L559.9 87.5L560.4 87.0L560.9 86.0L561.4 85.5L561.8 85.4L562.3 85.2L562.8 84.9L563.3 85.5L563.8 84.2L564.2 84.7L564.7 84.7L565.1 84.4L565.6 83.4L566.1 83.5L566.5 82.6L567.0 82.8L567.5 82.0L567.9 82.7L568.4 81.2L568.9 81.0L569.3 81.8L569.8 81.4L570.2 80.6L570.7 79.7L571.1 81.2L571.5 81.1L572.0 80.5L572.4 79.5L572.8 77.8L573.3 78.2L573.7 78.4L574.2 79.0L574.6 76.9L575.0 76.4L575.5 77.1L575.9 77.3L576.3 77.0L576.8 76.3L577.2 75.9L577.6 74.7L578.0 74.9L578.5 74.6L578.9 73.1L579.3 73.6L579.7 73.2L580.1 72.9L580.6 72.5L581.0 72.2L581.4 72.8L581.8 71.9L582.2 71.4L582.6 70.9L583.0 70.9L583.3 69.7L583.7 69.4L584.1 68.7L584.5 67.9L584.9 67.9L585.3 68.4L585.7 67.0L586.2 67.5L586.8 67.8L587.3 66.9L587.9 67.5L588.4 67.3L589.0 67.9L589.5 67.8L590.0 65.8L590.5 65.9L591.0 66.5L591.5 66.5L592.0 64.9L592.5 66.3L593.0 66.1L593.5 64.7L594.0 65.5L594.5 65.3L594.9 64.1L595.4 65.2L595.9 62.8L596.5 63.3L597.0 63.2L597.5 63.8L598.0 63.6L598.6 64.8L599.1 65.9L599.6 64.9L600.1 64.6L600.7 65.7L601.2 64.8L601.7 64.8L602.2 65.4L602.8 66.1L603.3 66.3L603.9 65.0L604.4 65.0L604.9 66.0L605.5 64.4L606.0 65.8L606.5 65.0L606.9 65.9L607.3 66.6L607.7 66.9L608.1 66.8L608.5 67.5L608.9 68.0L609.3 68.5L609.7 68.0L610.1 68.6L610.5 69.1L611.1 68.4L611.6 69.0L612.2 68.7L612.7 69.4L613.3 71.5L613.8 70.1L614.4 70.3L614.9 69.4L615.5 69.3L616.0 69.1L616.5 69.1L617.0 67.3L617.5 67.5L618.0 68.6L618.5 68.4L619.0 67.5L619.5 68.4L620.0 67.6L620.5 68.0L621.0 67.7L621.5 67.1L622.0 67.9L622.5 67.0L623.0 68.3L623.6 66.4L624.1 65.9L624.6 66.7L625.1 65.9L625.6 65.4L626.2 66.9L626.7 64.9L627.2 64.6L627.6 64.5L628.0 64.2L628.4 64.0L628.8 63.5L629.2 63.3L629.5 62.7L629.9 62.0L630.3 62.2L630.7 61.7L631.1 60.8L631.5 61.1L631.9 60.4L632.3 60.3L632.7 60.1L633.0 59.5L633.4 59.1L633.8 58.7L634.2 58.2L634.6 57.5L635.0 57.2L635.4 57.0L635.8 57.0L636.2 56.4L636.5 55.6L636.7 55.1L636.9 54.7L637.2 54.2L637.4 53.4L637.6 53.2L637.8 52.9L638.0 52.1L638.2 51.6L638.4 51.3L638.6 50.7L638.8 50.2L639.0 49.7L639.2 49.1L639.5 48.6L639.9 48.4L640.2 47.7L640.5 47.1L640.8 46.9L641.1 46.6L641.5 45.9L641.8 45.7L642.1 44.8L642.4 44.5L642.7 44.5L643.1 43.9L643.4 43.2L643.7 42.9L644.0 42.1L644.4 41.5L644.7 41.9L645.1 41.7L645.4 40.7L645.8 40.2L646.2 39.8L646.5 39.3L646.9 39.0L647.2 38.6L647.6 38.0L647.9 37.9L648.3 37.3L648.6 37.4L649.0 36.2L649.4 36.5L649.9 34.6L650.3 35.2L650.8 34.5L651.3 34.9L651.7 34.8L652.2 34.5L652.7 33.9L653.1 33.7L653.6 32.9L654.1 32.6L654.5 33.0L655.0 32.7L655.5 32.8L655.9 32.8L656.4 31.5L656.9 32.3L657.3 31.0L657.8 30.8L658.3 30.7L658.7 30.6L659.2 30.4L659.7 29.7L660.1 29.4L660.6 30.2L661.1 28.2L661.6 30.1L662.0 28.5L662.5 28.0L663.0 29.1L663.5 28.1L664.0 27.5L664.5 26.9L665.0 27.6L665.6 26.7L666.1 27.4L666.6 26.7L667.1 26.6L667.6 27.0L668.1 25.9L668.7 25.6L669.2 26.2L669.7 25.1L670.1 24.1L670.6 25.2L671.0 24.7L671.5 24.5L671.9 23.0L672.4 22.7L672.9 23.4L673.3 22.7L673.8 23.5L674.2 23.8L674.7 22.0L675.2 21.7L675.7 22.3L676.3 20.1L676.8 21.0L677.3 20.0" stroke="#000000"/>
</g>
<g font-family="'Liberation Sans', Arial, Helvetica, sans-serif" fill="#000" stroke="#000" stroke-width="0.42" stroke-linejoin="round">
<text transform="translate(124.8,537.0) scale(1,1.045)" font-size="29.2" text-anchor="middle">7100</text>
<text transform="translate(263.0,537.0) scale(1,1.045)" font-size="29.2" text-anchor="middle">7150</text>
<text transform="translate(401.2,537.0) scale(1,1.045)" font-size="29.2" text-anchor="middle">7200</text>
<text transform="translate(539.4,537.0) scale(1,1.045)" font-size="29.2" text-anchor="middle">7250</text>
<text transform="translate(677.6,537.0) scale(1,1.045)" font-size="29.2" text-anchor="middle">7300</text>
<text transform="translate(367.3,586.1) scale(1,1.012)" font-size="36.3" text-anchor="middle">E (eV)</text>
<text transform="translate(26.1,454.0) rotate(-90)" font-size="35.4" text-anchor="start">Normalized absorption</text>
<text transform="translate(26.1,18.9) rotate(-90)" font-size="35.4" text-anchor="end">(a.u.</text>
<text transform="translate(26.1,5.3) rotate(-90)" font-size="35.4" text-anchor="end">)</text>
<rect x="259" y="267.6" width="334.5" height="78.9" fill="#fff" stroke="#3a3a3a" stroke-width="1.1"/>
<rect x="258.4" y="361.3" width="367" height="78.6" fill="#fff" stroke="#3a3a3a" stroke-width="1.1"/>
<line x1="263.3" y1="288.8" x2="331.5" y2="288.8" stroke="#000000" stroke-width="2.6" stroke-linecap="round"/>
<text transform="translate(340.2,298.6) scale(1,1.04)" font-size="29.08">Fe: 50 GPa 300 K</text>
<line x1="263.3" y1="326.4" x2="331.5" y2="326.4" stroke="#2543FF" stroke-width="2.6" stroke-linecap="round"/>
<text transform="translate(340.2,335.5) scale(1,1.04)" font-size="29.08">Fe: 78 GPa 3320 K</text>
<line x1="263.3" y1="382.4" x2="331.5" y2="382.4" stroke="#F08223" stroke-width="2.6" stroke-linecap="round"/>
<text transform="translate(340.2,392.5) scale(1,1.04)" font-size="29.12">Fe-C: 74 GPa 3280 K</text>
<line x1="263.3" y1="419.6" x2="331.5" y2="419.6" stroke="#9B0FC9" stroke-width="2.6" stroke-linecap="round"/>
<text transform="translate(340.2,429.5) scale(1,1.04)" font-size="29.12">Fe-C: 74 GPa 300 K</text>
</g>
</svg>
</body></html>
